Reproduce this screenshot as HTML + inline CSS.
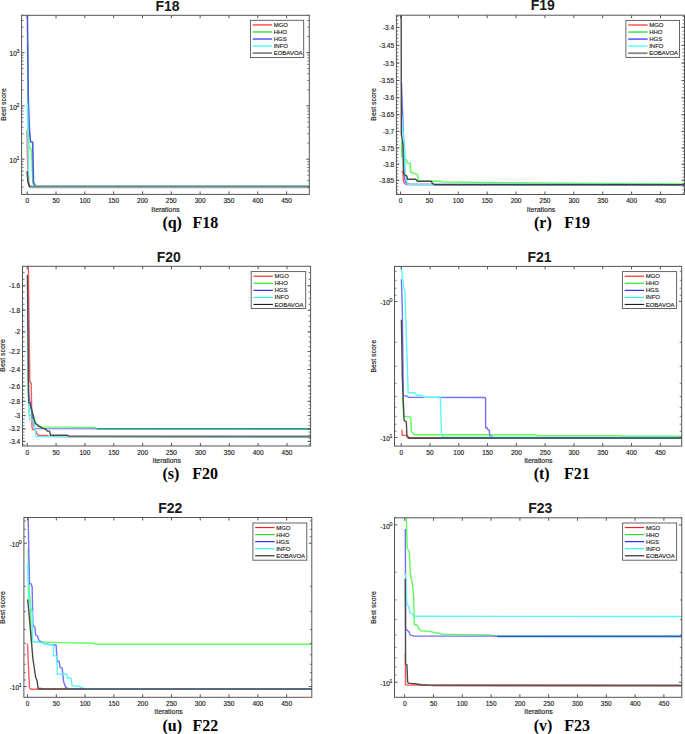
<!DOCTYPE html>
<html><head><meta charset="utf-8"><style>
html,body{margin:0;padding:0;background:#fff;}
svg{display:block;}
</style></head><body>
<svg width="685" height="734" viewBox="0 0 685 734" shape-rendering="geometricPrecision">
<rect width="685" height="734" fill="#fff"/>
<clipPath id="c18"><rect x="21.6" y="15.3" width="287.7" height="179.1"/></clipPath>
<g clip-path="url(#c18)" fill="none" stroke-linejoin="round">
<path d="M27.1,130.4 L27.6,159 L28.5,182 L30,186.5 L311.3,186.5" stroke="#ff5a5a" stroke-width="1.6"/>
<path d="M27.6,45 L28.3,127 L28.8,146 L31.6,150.8 L32.9,183.4 L34.5,186.5 L311.3,186.5" stroke="#5cff5c" stroke-width="1.6"/>
<path d="M27.4,14 L28.3,100 L29.5,130.4 L30.6,142 L32.7,142 L33.5,182 L35.6,186.5 L311.3,186.5" stroke="#4a5ae6" stroke-width="1.6"/>
<path d="M27.4,103 L28.8,184.8 L30.2,186.5 L311.3,186.5" stroke="#5cf6f6" stroke-width="1.6"/>
<path d="M27.1,171.2 L28,182 L29.5,186.7 L311.3,186.7" stroke="#4a4a4a" stroke-width="1.6"/>
<path d="M30,187.8 L311.3,187.8" stroke="#bdbdbd" stroke-width="1.0"/>
<path d="M30.5,186.5 L311.3,186.5" stroke="#648c91" stroke-width="1.5"/>
</g>
<rect x="21.6" y="15.3" width="287.7" height="179.1" fill="none" stroke="#555" stroke-width="1"/>
<line x1="27.2" y1="194.4" x2="27.2" y2="191.4" stroke="#555" stroke-width="1.0"/>
<line x1="27.2" y1="15.3" x2="27.2" y2="18.3" stroke="#555" stroke-width="1.0"/>
<text x="27.2" y="203.1" font-family="Liberation Sans" font-size="6.5" font-weight="normal" text-anchor="middle" fill="#222" stroke="#222" stroke-width="0.15" >0</text>
<line x1="56.02" y1="194.4" x2="56.02" y2="191.4" stroke="#555" stroke-width="1.0"/>
<line x1="56.02" y1="15.3" x2="56.02" y2="18.3" stroke="#555" stroke-width="1.0"/>
<text x="56.02" y="203.1" font-family="Liberation Sans" font-size="6.5" font-weight="normal" text-anchor="middle" fill="#222" stroke="#222" stroke-width="0.15" >50</text>
<line x1="84.84" y1="194.4" x2="84.84" y2="191.4" stroke="#555" stroke-width="1.0"/>
<line x1="84.84" y1="15.3" x2="84.84" y2="18.3" stroke="#555" stroke-width="1.0"/>
<text x="84.84" y="203.1" font-family="Liberation Sans" font-size="6.5" font-weight="normal" text-anchor="middle" fill="#222" stroke="#222" stroke-width="0.15" >100</text>
<line x1="113.66" y1="194.4" x2="113.66" y2="191.4" stroke="#555" stroke-width="1.0"/>
<line x1="113.66" y1="15.3" x2="113.66" y2="18.3" stroke="#555" stroke-width="1.0"/>
<text x="113.66" y="203.1" font-family="Liberation Sans" font-size="6.5" font-weight="normal" text-anchor="middle" fill="#222" stroke="#222" stroke-width="0.15" >150</text>
<line x1="142.48" y1="194.4" x2="142.48" y2="191.4" stroke="#555" stroke-width="1.0"/>
<line x1="142.48" y1="15.3" x2="142.48" y2="18.3" stroke="#555" stroke-width="1.0"/>
<text x="142.48" y="203.1" font-family="Liberation Sans" font-size="6.5" font-weight="normal" text-anchor="middle" fill="#222" stroke="#222" stroke-width="0.15" >200</text>
<line x1="171.3" y1="194.4" x2="171.3" y2="191.4" stroke="#555" stroke-width="1.0"/>
<line x1="171.3" y1="15.3" x2="171.3" y2="18.3" stroke="#555" stroke-width="1.0"/>
<text x="171.3" y="203.1" font-family="Liberation Sans" font-size="6.5" font-weight="normal" text-anchor="middle" fill="#222" stroke="#222" stroke-width="0.15" >250</text>
<line x1="200.12" y1="194.4" x2="200.12" y2="191.4" stroke="#555" stroke-width="1.0"/>
<line x1="200.12" y1="15.3" x2="200.12" y2="18.3" stroke="#555" stroke-width="1.0"/>
<text x="200.12" y="203.1" font-family="Liberation Sans" font-size="6.5" font-weight="normal" text-anchor="middle" fill="#222" stroke="#222" stroke-width="0.15" >300</text>
<line x1="228.94" y1="194.4" x2="228.94" y2="191.4" stroke="#555" stroke-width="1.0"/>
<line x1="228.94" y1="15.3" x2="228.94" y2="18.3" stroke="#555" stroke-width="1.0"/>
<text x="228.94" y="203.1" font-family="Liberation Sans" font-size="6.5" font-weight="normal" text-anchor="middle" fill="#222" stroke="#222" stroke-width="0.15" >350</text>
<line x1="257.76" y1="194.4" x2="257.76" y2="191.4" stroke="#555" stroke-width="1.0"/>
<line x1="257.76" y1="15.3" x2="257.76" y2="18.3" stroke="#555" stroke-width="1.0"/>
<text x="257.76" y="203.1" font-family="Liberation Sans" font-size="6.5" font-weight="normal" text-anchor="middle" fill="#222" stroke="#222" stroke-width="0.15" >400</text>
<line x1="286.58" y1="194.4" x2="286.58" y2="191.4" stroke="#555" stroke-width="1.0"/>
<line x1="286.58" y1="15.3" x2="286.58" y2="18.3" stroke="#555" stroke-width="1.0"/>
<text x="286.58" y="203.1" font-family="Liberation Sans" font-size="6.5" font-weight="normal" text-anchor="middle" fill="#222" stroke="#222" stroke-width="0.15" >450</text>
<line x1="21.6" y1="159.2" x2="24.6" y2="159.2" stroke="#555" stroke-width="1.0"/>
<line x1="309.3" y1="159.2" x2="306.3" y2="159.2" stroke="#555" stroke-width="1.0"/>
<text x="16.91" y="162.8" font-family="Liberation Sans" font-size="6.6" text-anchor="end" fill="#222" stroke="#222" stroke-width="0.15">10</text>
<text x="16.51" y="160" font-family="Liberation Sans" font-size="5.3" text-anchor="start" fill="#222" stroke="#222" stroke-width="0.15">1</text>
<line x1="21.6" y1="105.9" x2="24.6" y2="105.9" stroke="#555" stroke-width="1.0"/>
<line x1="309.3" y1="105.9" x2="306.3" y2="105.9" stroke="#555" stroke-width="1.0"/>
<text x="16.91" y="109.5" font-family="Liberation Sans" font-size="6.6" text-anchor="end" fill="#222" stroke="#222" stroke-width="0.15">10</text>
<text x="16.51" y="106.7" font-family="Liberation Sans" font-size="5.3" text-anchor="start" fill="#222" stroke="#222" stroke-width="0.15">2</text>
<line x1="21.6" y1="52.6" x2="24.6" y2="52.6" stroke="#555" stroke-width="1.0"/>
<line x1="309.3" y1="52.6" x2="306.3" y2="52.6" stroke="#555" stroke-width="1.0"/>
<text x="16.91" y="56.2" font-family="Liberation Sans" font-size="6.6" text-anchor="end" fill="#222" stroke="#222" stroke-width="0.15">10</text>
<text x="16.51" y="53.4" font-family="Liberation Sans" font-size="5.3" text-anchor="start" fill="#222" stroke="#222" stroke-width="0.15">3</text>
<line x1="21.6" y1="187.07" x2="23.6" y2="187.07" stroke="#555" stroke-width="0.8"/>
<line x1="309.3" y1="187.07" x2="307.3" y2="187.07" stroke="#555" stroke-width="0.8"/>
<line x1="21.6" y1="180.41" x2="23.6" y2="180.41" stroke="#555" stroke-width="0.8"/>
<line x1="309.3" y1="180.41" x2="307.3" y2="180.41" stroke="#555" stroke-width="0.8"/>
<line x1="21.6" y1="175.24" x2="23.6" y2="175.24" stroke="#555" stroke-width="0.8"/>
<line x1="309.3" y1="175.24" x2="307.3" y2="175.24" stroke="#555" stroke-width="0.8"/>
<line x1="21.6" y1="171.02" x2="23.6" y2="171.02" stroke="#555" stroke-width="0.8"/>
<line x1="309.3" y1="171.02" x2="307.3" y2="171.02" stroke="#555" stroke-width="0.8"/>
<line x1="21.6" y1="167.46" x2="23.6" y2="167.46" stroke="#555" stroke-width="0.8"/>
<line x1="309.3" y1="167.46" x2="307.3" y2="167.46" stroke="#555" stroke-width="0.8"/>
<line x1="21.6" y1="164.37" x2="23.6" y2="164.37" stroke="#555" stroke-width="0.8"/>
<line x1="309.3" y1="164.37" x2="307.3" y2="164.37" stroke="#555" stroke-width="0.8"/>
<line x1="21.6" y1="161.64" x2="23.6" y2="161.64" stroke="#555" stroke-width="0.8"/>
<line x1="309.3" y1="161.64" x2="307.3" y2="161.64" stroke="#555" stroke-width="0.8"/>
<line x1="21.6" y1="143.16" x2="23.6" y2="143.16" stroke="#555" stroke-width="0.8"/>
<line x1="309.3" y1="143.16" x2="307.3" y2="143.16" stroke="#555" stroke-width="0.8"/>
<line x1="21.6" y1="133.77" x2="23.6" y2="133.77" stroke="#555" stroke-width="0.8"/>
<line x1="309.3" y1="133.77" x2="307.3" y2="133.77" stroke="#555" stroke-width="0.8"/>
<line x1="21.6" y1="127.11" x2="23.6" y2="127.11" stroke="#555" stroke-width="0.8"/>
<line x1="309.3" y1="127.11" x2="307.3" y2="127.11" stroke="#555" stroke-width="0.8"/>
<line x1="21.6" y1="121.94" x2="23.6" y2="121.94" stroke="#555" stroke-width="0.8"/>
<line x1="309.3" y1="121.94" x2="307.3" y2="121.94" stroke="#555" stroke-width="0.8"/>
<line x1="21.6" y1="117.72" x2="23.6" y2="117.72" stroke="#555" stroke-width="0.8"/>
<line x1="309.3" y1="117.72" x2="307.3" y2="117.72" stroke="#555" stroke-width="0.8"/>
<line x1="21.6" y1="114.16" x2="23.6" y2="114.16" stroke="#555" stroke-width="0.8"/>
<line x1="309.3" y1="114.16" x2="307.3" y2="114.16" stroke="#555" stroke-width="0.8"/>
<line x1="21.6" y1="111.07" x2="23.6" y2="111.07" stroke="#555" stroke-width="0.8"/>
<line x1="309.3" y1="111.07" x2="307.3" y2="111.07" stroke="#555" stroke-width="0.8"/>
<line x1="21.6" y1="108.34" x2="23.6" y2="108.34" stroke="#555" stroke-width="0.8"/>
<line x1="309.3" y1="108.34" x2="307.3" y2="108.34" stroke="#555" stroke-width="0.8"/>
<line x1="21.6" y1="89.86" x2="23.6" y2="89.86" stroke="#555" stroke-width="0.8"/>
<line x1="309.3" y1="89.86" x2="307.3" y2="89.86" stroke="#555" stroke-width="0.8"/>
<line x1="21.6" y1="80.47" x2="23.6" y2="80.47" stroke="#555" stroke-width="0.8"/>
<line x1="309.3" y1="80.47" x2="307.3" y2="80.47" stroke="#555" stroke-width="0.8"/>
<line x1="21.6" y1="73.81" x2="23.6" y2="73.81" stroke="#555" stroke-width="0.8"/>
<line x1="309.3" y1="73.81" x2="307.3" y2="73.81" stroke="#555" stroke-width="0.8"/>
<line x1="21.6" y1="68.64" x2="23.6" y2="68.64" stroke="#555" stroke-width="0.8"/>
<line x1="309.3" y1="68.64" x2="307.3" y2="68.64" stroke="#555" stroke-width="0.8"/>
<line x1="21.6" y1="64.42" x2="23.6" y2="64.42" stroke="#555" stroke-width="0.8"/>
<line x1="309.3" y1="64.42" x2="307.3" y2="64.42" stroke="#555" stroke-width="0.8"/>
<line x1="21.6" y1="60.86" x2="23.6" y2="60.86" stroke="#555" stroke-width="0.8"/>
<line x1="309.3" y1="60.86" x2="307.3" y2="60.86" stroke="#555" stroke-width="0.8"/>
<line x1="21.6" y1="57.77" x2="23.6" y2="57.77" stroke="#555" stroke-width="0.8"/>
<line x1="309.3" y1="57.77" x2="307.3" y2="57.77" stroke="#555" stroke-width="0.8"/>
<line x1="21.6" y1="55.04" x2="23.6" y2="55.04" stroke="#555" stroke-width="0.8"/>
<line x1="309.3" y1="55.04" x2="307.3" y2="55.04" stroke="#555" stroke-width="0.8"/>
<line x1="21.6" y1="36.56" x2="23.6" y2="36.56" stroke="#555" stroke-width="0.8"/>
<line x1="309.3" y1="36.56" x2="307.3" y2="36.56" stroke="#555" stroke-width="0.8"/>
<line x1="21.6" y1="27.17" x2="23.6" y2="27.17" stroke="#555" stroke-width="0.8"/>
<line x1="309.3" y1="27.17" x2="307.3" y2="27.17" stroke="#555" stroke-width="0.8"/>
<line x1="21.6" y1="20.51" x2="23.6" y2="20.51" stroke="#555" stroke-width="0.8"/>
<line x1="309.3" y1="20.51" x2="307.3" y2="20.51" stroke="#555" stroke-width="0.8"/>
<line x1="21.6" y1="15.34" x2="23.6" y2="15.34" stroke="#555" stroke-width="0.8"/>
<line x1="309.3" y1="15.34" x2="307.3" y2="15.34" stroke="#555" stroke-width="0.8"/>
<text x="167.6" y="10.5" font-family="Liberation Sans" font-size="14.0" font-weight="bold" text-anchor="middle" fill="#1a1a1a" >F18</text>
<text x="165.5" y="211.7" font-family="Liberation Sans" font-size="6.9" font-weight="normal" text-anchor="middle" fill="#222" stroke="#222" stroke-width="0.15" >Iterations</text>
<text x="5.6" y="104.4" font-family="Liberation Sans" font-size="6.9" font-weight="normal" text-anchor="middle" fill="#222" stroke="#222" stroke-width="0.15" transform="rotate(-90 5.6 104.4)">Best score</text>
<rect x="250.4" y="20.3" width="53.3" height="37.2" fill="#fff" stroke="#555" stroke-width="0.9"/>
<line x1="252.7" y1="24.9" x2="272.1" y2="24.9" stroke="#ff7070" stroke-width="1.8"/>
<text x="273.7" y="27" font-family="Liberation Sans" font-size="6.0" font-weight="normal" text-anchor="start" fill="#222" stroke="#222" stroke-width="0.15" >MGO</text>
<line x1="252.7" y1="31.95" x2="272.1" y2="31.95" stroke="#60e860" stroke-width="1.8"/>
<text x="273.7" y="34.05" font-family="Liberation Sans" font-size="6.0" font-weight="normal" text-anchor="start" fill="#222" stroke="#222" stroke-width="0.15" >HHO</text>
<line x1="252.7" y1="39" x2="272.1" y2="39" stroke="#7070ff" stroke-width="1.8"/>
<text x="273.7" y="41.1" font-family="Liberation Sans" font-size="6.0" font-weight="normal" text-anchor="start" fill="#222" stroke="#222" stroke-width="0.15" >HGS</text>
<line x1="252.7" y1="46.05" x2="272.1" y2="46.05" stroke="#70ffff" stroke-width="1.8"/>
<text x="273.7" y="48.15" font-family="Liberation Sans" font-size="6.0" font-weight="normal" text-anchor="start" fill="#222" stroke="#222" stroke-width="0.15" >INFO</text>
<line x1="252.7" y1="53.1" x2="272.1" y2="53.1" stroke="#888888" stroke-width="1.8"/>
<text x="273.7" y="55.2" font-family="Liberation Sans" font-size="6.0" font-weight="normal" text-anchor="start" fill="#222" stroke="#222" stroke-width="0.15" >EOBAVOA</text>
<text x="162.4" y="228" font-family="Liberation Serif" font-size="16" font-weight="bold" text-anchor="start" fill="#000" >(q)</text>
<text x="192.4" y="228" font-family="Liberation Serif" font-size="16" font-weight="bold" text-anchor="start" fill="#000" >F18</text>
<clipPath id="c19"><rect x="396.4" y="15.2" width="288.1" height="179.3"/></clipPath>
<g clip-path="url(#c19)" fill="none" stroke-linejoin="round">
<path d="M401.4,171.3 L402.8,172 L403.4,180.8 L404.5,183.5 L406.2,184.5 L686.5,184.6" stroke="#ff5a5a" stroke-width="1.4"/>
<path d="M401.7,142 L401.7,157 L403.1,157 L406.5,159.7 L407.2,163.1 L410.2,163.1 L410.6,172.3 L414.3,173.3 L417.4,174.4 L418.4,181.2 L441.4,181.3 L442,182 L484,182.5 L600,183.5 L686.5,184" stroke="#5cff5c" stroke-width="1.4"/>
<path d="M401.5,83 L403.8,145 L404.5,178 L405.5,182.2 L407,183.5 L410,184.5 L686.5,184.6" stroke="#7272ff" stroke-width="1.4"/>
<path d="M401.5,115.5 L404.8,150.9 L405.2,175.4 L406.5,177.1 L406.9,182.2 L408,184.4 L686.5,184.6" stroke="#5cf6f6" stroke-width="1.4"/>
<path d="M401.2,14 L401.3,134 L402.9,145 L403.4,170 L403.9,174.7 L406.9,176.1 L407.5,179.2 L415.7,179.2 L417.4,181.2 L431.4,181.2 L432.4,183.6 L434.8,184.6 L686.5,184.7" stroke="#4a4a4a" stroke-width="1.4"/>
<path d="M434.8,184.6 L686.5,184.6" stroke="#374155" stroke-width="1.4"/>
</g>
<rect x="396.4" y="15.2" width="288.1" height="179.3" fill="none" stroke="#555" stroke-width="1"/>
<line x1="400.5" y1="194.5" x2="400.5" y2="191.5" stroke="#555" stroke-width="1.0"/>
<line x1="400.5" y1="15.2" x2="400.5" y2="18.2" stroke="#555" stroke-width="1.0"/>
<text x="400.5" y="203.2" font-family="Liberation Sans" font-size="6.5" font-weight="normal" text-anchor="middle" fill="#222" stroke="#222" stroke-width="0.15" >0</text>
<line x1="429.39" y1="194.5" x2="429.39" y2="191.5" stroke="#555" stroke-width="1.0"/>
<line x1="429.39" y1="15.2" x2="429.39" y2="18.2" stroke="#555" stroke-width="1.0"/>
<text x="429.39" y="203.2" font-family="Liberation Sans" font-size="6.5" font-weight="normal" text-anchor="middle" fill="#222" stroke="#222" stroke-width="0.15" >50</text>
<line x1="458.28" y1="194.5" x2="458.28" y2="191.5" stroke="#555" stroke-width="1.0"/>
<line x1="458.28" y1="15.2" x2="458.28" y2="18.2" stroke="#555" stroke-width="1.0"/>
<text x="458.28" y="203.2" font-family="Liberation Sans" font-size="6.5" font-weight="normal" text-anchor="middle" fill="#222" stroke="#222" stroke-width="0.15" >100</text>
<line x1="487.17" y1="194.5" x2="487.17" y2="191.5" stroke="#555" stroke-width="1.0"/>
<line x1="487.17" y1="15.2" x2="487.17" y2="18.2" stroke="#555" stroke-width="1.0"/>
<text x="487.17" y="203.2" font-family="Liberation Sans" font-size="6.5" font-weight="normal" text-anchor="middle" fill="#222" stroke="#222" stroke-width="0.15" >150</text>
<line x1="516.06" y1="194.5" x2="516.06" y2="191.5" stroke="#555" stroke-width="1.0"/>
<line x1="516.06" y1="15.2" x2="516.06" y2="18.2" stroke="#555" stroke-width="1.0"/>
<text x="516.06" y="203.2" font-family="Liberation Sans" font-size="6.5" font-weight="normal" text-anchor="middle" fill="#222" stroke="#222" stroke-width="0.15" >200</text>
<line x1="544.95" y1="194.5" x2="544.95" y2="191.5" stroke="#555" stroke-width="1.0"/>
<line x1="544.95" y1="15.2" x2="544.95" y2="18.2" stroke="#555" stroke-width="1.0"/>
<text x="544.95" y="203.2" font-family="Liberation Sans" font-size="6.5" font-weight="normal" text-anchor="middle" fill="#222" stroke="#222" stroke-width="0.15" >250</text>
<line x1="573.84" y1="194.5" x2="573.84" y2="191.5" stroke="#555" stroke-width="1.0"/>
<line x1="573.84" y1="15.2" x2="573.84" y2="18.2" stroke="#555" stroke-width="1.0"/>
<text x="573.84" y="203.2" font-family="Liberation Sans" font-size="6.5" font-weight="normal" text-anchor="middle" fill="#222" stroke="#222" stroke-width="0.15" >300</text>
<line x1="602.73" y1="194.5" x2="602.73" y2="191.5" stroke="#555" stroke-width="1.0"/>
<line x1="602.73" y1="15.2" x2="602.73" y2="18.2" stroke="#555" stroke-width="1.0"/>
<text x="602.73" y="203.2" font-family="Liberation Sans" font-size="6.5" font-weight="normal" text-anchor="middle" fill="#222" stroke="#222" stroke-width="0.15" >350</text>
<line x1="631.62" y1="194.5" x2="631.62" y2="191.5" stroke="#555" stroke-width="1.0"/>
<line x1="631.62" y1="15.2" x2="631.62" y2="18.2" stroke="#555" stroke-width="1.0"/>
<text x="631.62" y="203.2" font-family="Liberation Sans" font-size="6.5" font-weight="normal" text-anchor="middle" fill="#222" stroke="#222" stroke-width="0.15" >400</text>
<line x1="660.51" y1="194.5" x2="660.51" y2="191.5" stroke="#555" stroke-width="1.0"/>
<line x1="660.51" y1="15.2" x2="660.51" y2="18.2" stroke="#555" stroke-width="1.0"/>
<text x="660.51" y="203.2" font-family="Liberation Sans" font-size="6.5" font-weight="normal" text-anchor="middle" fill="#222" stroke="#222" stroke-width="0.15" >450</text>
<line x1="396.4" y1="27.4" x2="399.4" y2="27.4" stroke="#555" stroke-width="1.0"/>
<line x1="684.5" y1="27.4" x2="681.5" y2="27.4" stroke="#555" stroke-width="1.0"/>
<text x="394.1" y="30" font-family="Liberation Sans" font-size="6.5" font-weight="normal" text-anchor="end" fill="#222" stroke="#222" stroke-width="0.15" >-3.4</text>
<line x1="396.4" y1="45.36" x2="399.4" y2="45.36" stroke="#555" stroke-width="1.0"/>
<line x1="684.5" y1="45.36" x2="681.5" y2="45.36" stroke="#555" stroke-width="1.0"/>
<text x="394.1" y="47.96" font-family="Liberation Sans" font-size="6.5" font-weight="normal" text-anchor="end" fill="#222" stroke="#222" stroke-width="0.15" >-3.45</text>
<line x1="396.4" y1="63.06" x2="399.4" y2="63.06" stroke="#555" stroke-width="1.0"/>
<line x1="684.5" y1="63.06" x2="681.5" y2="63.06" stroke="#555" stroke-width="1.0"/>
<text x="394.1" y="65.66" font-family="Liberation Sans" font-size="6.5" font-weight="normal" text-anchor="end" fill="#222" stroke="#222" stroke-width="0.15" >-3.5</text>
<line x1="396.4" y1="80.52" x2="399.4" y2="80.52" stroke="#555" stroke-width="1.0"/>
<line x1="684.5" y1="80.52" x2="681.5" y2="80.52" stroke="#555" stroke-width="1.0"/>
<text x="394.1" y="83.12" font-family="Liberation Sans" font-size="6.5" font-weight="normal" text-anchor="end" fill="#222" stroke="#222" stroke-width="0.15" >-3.55</text>
<line x1="396.4" y1="97.73" x2="399.4" y2="97.73" stroke="#555" stroke-width="1.0"/>
<line x1="684.5" y1="97.73" x2="681.5" y2="97.73" stroke="#555" stroke-width="1.0"/>
<text x="394.1" y="100.33" font-family="Liberation Sans" font-size="6.5" font-weight="normal" text-anchor="end" fill="#222" stroke="#222" stroke-width="0.15" >-3.6</text>
<line x1="396.4" y1="114.7" x2="399.4" y2="114.7" stroke="#555" stroke-width="1.0"/>
<line x1="684.5" y1="114.7" x2="681.5" y2="114.7" stroke="#555" stroke-width="1.0"/>
<text x="394.1" y="117.3" font-family="Liberation Sans" font-size="6.5" font-weight="normal" text-anchor="end" fill="#222" stroke="#222" stroke-width="0.15" >-3.65</text>
<line x1="396.4" y1="131.44" x2="399.4" y2="131.44" stroke="#555" stroke-width="1.0"/>
<line x1="684.5" y1="131.44" x2="681.5" y2="131.44" stroke="#555" stroke-width="1.0"/>
<text x="394.1" y="134.04" font-family="Liberation Sans" font-size="6.5" font-weight="normal" text-anchor="end" fill="#222" stroke="#222" stroke-width="0.15" >-3.7</text>
<line x1="396.4" y1="147.95" x2="399.4" y2="147.95" stroke="#555" stroke-width="1.0"/>
<line x1="684.5" y1="147.95" x2="681.5" y2="147.95" stroke="#555" stroke-width="1.0"/>
<text x="394.1" y="150.55" font-family="Liberation Sans" font-size="6.5" font-weight="normal" text-anchor="end" fill="#222" stroke="#222" stroke-width="0.15" >-3.75</text>
<line x1="396.4" y1="164.25" x2="399.4" y2="164.25" stroke="#555" stroke-width="1.0"/>
<line x1="684.5" y1="164.25" x2="681.5" y2="164.25" stroke="#555" stroke-width="1.0"/>
<text x="394.1" y="166.85" font-family="Liberation Sans" font-size="6.5" font-weight="normal" text-anchor="end" fill="#222" stroke="#222" stroke-width="0.15" >-3.8</text>
<line x1="396.4" y1="180.33" x2="399.4" y2="180.33" stroke="#555" stroke-width="1.0"/>
<line x1="684.5" y1="180.33" x2="681.5" y2="180.33" stroke="#555" stroke-width="1.0"/>
<text x="394.1" y="182.93" font-family="Liberation Sans" font-size="6.5" font-weight="normal" text-anchor="end" fill="#222" stroke="#222" stroke-width="0.15" >-3.85</text>
<line x1="396.4" y1="16.5" x2="398.4" y2="16.5" stroke="#555" stroke-width="0.8"/>
<line x1="684.5" y1="16.5" x2="682.5" y2="16.5" stroke="#555" stroke-width="0.8"/>
<line x1="396.4" y1="20.14" x2="398.4" y2="20.14" stroke="#555" stroke-width="0.8"/>
<line x1="684.5" y1="20.14" x2="682.5" y2="20.14" stroke="#555" stroke-width="0.8"/>
<line x1="396.4" y1="23.78" x2="398.4" y2="23.78" stroke="#555" stroke-width="0.8"/>
<line x1="684.5" y1="23.78" x2="682.5" y2="23.78" stroke="#555" stroke-width="0.8"/>
<line x1="396.4" y1="27.4" x2="398.4" y2="27.4" stroke="#555" stroke-width="0.8"/>
<line x1="684.5" y1="27.4" x2="682.5" y2="27.4" stroke="#555" stroke-width="0.8"/>
<line x1="396.4" y1="31.01" x2="398.4" y2="31.01" stroke="#555" stroke-width="0.8"/>
<line x1="684.5" y1="31.01" x2="682.5" y2="31.01" stroke="#555" stroke-width="0.8"/>
<line x1="396.4" y1="34.62" x2="398.4" y2="34.62" stroke="#555" stroke-width="0.8"/>
<line x1="684.5" y1="34.62" x2="682.5" y2="34.62" stroke="#555" stroke-width="0.8"/>
<line x1="396.4" y1="38.21" x2="398.4" y2="38.21" stroke="#555" stroke-width="0.8"/>
<line x1="684.5" y1="38.21" x2="682.5" y2="38.21" stroke="#555" stroke-width="0.8"/>
<line x1="396.4" y1="41.79" x2="398.4" y2="41.79" stroke="#555" stroke-width="0.8"/>
<line x1="684.5" y1="41.79" x2="682.5" y2="41.79" stroke="#555" stroke-width="0.8"/>
<line x1="396.4" y1="45.36" x2="398.4" y2="45.36" stroke="#555" stroke-width="0.8"/>
<line x1="684.5" y1="45.36" x2="682.5" y2="45.36" stroke="#555" stroke-width="0.8"/>
<line x1="396.4" y1="48.92" x2="398.4" y2="48.92" stroke="#555" stroke-width="0.8"/>
<line x1="684.5" y1="48.92" x2="682.5" y2="48.92" stroke="#555" stroke-width="0.8"/>
<line x1="396.4" y1="52.47" x2="398.4" y2="52.47" stroke="#555" stroke-width="0.8"/>
<line x1="684.5" y1="52.47" x2="682.5" y2="52.47" stroke="#555" stroke-width="0.8"/>
<line x1="396.4" y1="56.01" x2="398.4" y2="56.01" stroke="#555" stroke-width="0.8"/>
<line x1="684.5" y1="56.01" x2="682.5" y2="56.01" stroke="#555" stroke-width="0.8"/>
<line x1="396.4" y1="59.54" x2="398.4" y2="59.54" stroke="#555" stroke-width="0.8"/>
<line x1="684.5" y1="59.54" x2="682.5" y2="59.54" stroke="#555" stroke-width="0.8"/>
<line x1="396.4" y1="63.06" x2="398.4" y2="63.06" stroke="#555" stroke-width="0.8"/>
<line x1="684.5" y1="63.06" x2="682.5" y2="63.06" stroke="#555" stroke-width="0.8"/>
<line x1="396.4" y1="66.58" x2="398.4" y2="66.58" stroke="#555" stroke-width="0.8"/>
<line x1="684.5" y1="66.58" x2="682.5" y2="66.58" stroke="#555" stroke-width="0.8"/>
<line x1="396.4" y1="70.08" x2="398.4" y2="70.08" stroke="#555" stroke-width="0.8"/>
<line x1="684.5" y1="70.08" x2="682.5" y2="70.08" stroke="#555" stroke-width="0.8"/>
<line x1="396.4" y1="73.57" x2="398.4" y2="73.57" stroke="#555" stroke-width="0.8"/>
<line x1="684.5" y1="73.57" x2="682.5" y2="73.57" stroke="#555" stroke-width="0.8"/>
<line x1="396.4" y1="77.05" x2="398.4" y2="77.05" stroke="#555" stroke-width="0.8"/>
<line x1="684.5" y1="77.05" x2="682.5" y2="77.05" stroke="#555" stroke-width="0.8"/>
<line x1="396.4" y1="80.52" x2="398.4" y2="80.52" stroke="#555" stroke-width="0.8"/>
<line x1="684.5" y1="80.52" x2="682.5" y2="80.52" stroke="#555" stroke-width="0.8"/>
<line x1="396.4" y1="83.98" x2="398.4" y2="83.98" stroke="#555" stroke-width="0.8"/>
<line x1="684.5" y1="83.98" x2="682.5" y2="83.98" stroke="#555" stroke-width="0.8"/>
<line x1="396.4" y1="87.43" x2="398.4" y2="87.43" stroke="#555" stroke-width="0.8"/>
<line x1="684.5" y1="87.43" x2="682.5" y2="87.43" stroke="#555" stroke-width="0.8"/>
<line x1="396.4" y1="90.87" x2="398.4" y2="90.87" stroke="#555" stroke-width="0.8"/>
<line x1="684.5" y1="90.87" x2="682.5" y2="90.87" stroke="#555" stroke-width="0.8"/>
<line x1="396.4" y1="94.3" x2="398.4" y2="94.3" stroke="#555" stroke-width="0.8"/>
<line x1="684.5" y1="94.3" x2="682.5" y2="94.3" stroke="#555" stroke-width="0.8"/>
<line x1="396.4" y1="97.73" x2="398.4" y2="97.73" stroke="#555" stroke-width="0.8"/>
<line x1="684.5" y1="97.73" x2="682.5" y2="97.73" stroke="#555" stroke-width="0.8"/>
<line x1="396.4" y1="101.14" x2="398.4" y2="101.14" stroke="#555" stroke-width="0.8"/>
<line x1="684.5" y1="101.14" x2="682.5" y2="101.14" stroke="#555" stroke-width="0.8"/>
<line x1="396.4" y1="104.54" x2="398.4" y2="104.54" stroke="#555" stroke-width="0.8"/>
<line x1="684.5" y1="104.54" x2="682.5" y2="104.54" stroke="#555" stroke-width="0.8"/>
<line x1="396.4" y1="107.94" x2="398.4" y2="107.94" stroke="#555" stroke-width="0.8"/>
<line x1="684.5" y1="107.94" x2="682.5" y2="107.94" stroke="#555" stroke-width="0.8"/>
<line x1="396.4" y1="111.32" x2="398.4" y2="111.32" stroke="#555" stroke-width="0.8"/>
<line x1="684.5" y1="111.32" x2="682.5" y2="111.32" stroke="#555" stroke-width="0.8"/>
<line x1="396.4" y1="114.7" x2="398.4" y2="114.7" stroke="#555" stroke-width="0.8"/>
<line x1="684.5" y1="114.7" x2="682.5" y2="114.7" stroke="#555" stroke-width="0.8"/>
<line x1="396.4" y1="118.06" x2="398.4" y2="118.06" stroke="#555" stroke-width="0.8"/>
<line x1="684.5" y1="118.06" x2="682.5" y2="118.06" stroke="#555" stroke-width="0.8"/>
<line x1="396.4" y1="121.42" x2="398.4" y2="121.42" stroke="#555" stroke-width="0.8"/>
<line x1="684.5" y1="121.42" x2="682.5" y2="121.42" stroke="#555" stroke-width="0.8"/>
<line x1="396.4" y1="124.77" x2="398.4" y2="124.77" stroke="#555" stroke-width="0.8"/>
<line x1="684.5" y1="124.77" x2="682.5" y2="124.77" stroke="#555" stroke-width="0.8"/>
<line x1="396.4" y1="128.11" x2="398.4" y2="128.11" stroke="#555" stroke-width="0.8"/>
<line x1="684.5" y1="128.11" x2="682.5" y2="128.11" stroke="#555" stroke-width="0.8"/>
<line x1="396.4" y1="131.44" x2="398.4" y2="131.44" stroke="#555" stroke-width="0.8"/>
<line x1="684.5" y1="131.44" x2="682.5" y2="131.44" stroke="#555" stroke-width="0.8"/>
<line x1="396.4" y1="134.76" x2="398.4" y2="134.76" stroke="#555" stroke-width="0.8"/>
<line x1="684.5" y1="134.76" x2="682.5" y2="134.76" stroke="#555" stroke-width="0.8"/>
<line x1="396.4" y1="138.07" x2="398.4" y2="138.07" stroke="#555" stroke-width="0.8"/>
<line x1="684.5" y1="138.07" x2="682.5" y2="138.07" stroke="#555" stroke-width="0.8"/>
<line x1="396.4" y1="141.37" x2="398.4" y2="141.37" stroke="#555" stroke-width="0.8"/>
<line x1="684.5" y1="141.37" x2="682.5" y2="141.37" stroke="#555" stroke-width="0.8"/>
<line x1="396.4" y1="144.67" x2="398.4" y2="144.67" stroke="#555" stroke-width="0.8"/>
<line x1="684.5" y1="144.67" x2="682.5" y2="144.67" stroke="#555" stroke-width="0.8"/>
<line x1="396.4" y1="147.95" x2="398.4" y2="147.95" stroke="#555" stroke-width="0.8"/>
<line x1="684.5" y1="147.95" x2="682.5" y2="147.95" stroke="#555" stroke-width="0.8"/>
<line x1="396.4" y1="151.23" x2="398.4" y2="151.23" stroke="#555" stroke-width="0.8"/>
<line x1="684.5" y1="151.23" x2="682.5" y2="151.23" stroke="#555" stroke-width="0.8"/>
<line x1="396.4" y1="154.5" x2="398.4" y2="154.5" stroke="#555" stroke-width="0.8"/>
<line x1="684.5" y1="154.5" x2="682.5" y2="154.5" stroke="#555" stroke-width="0.8"/>
<line x1="396.4" y1="157.75" x2="398.4" y2="157.75" stroke="#555" stroke-width="0.8"/>
<line x1="684.5" y1="157.75" x2="682.5" y2="157.75" stroke="#555" stroke-width="0.8"/>
<line x1="396.4" y1="161.01" x2="398.4" y2="161.01" stroke="#555" stroke-width="0.8"/>
<line x1="684.5" y1="161.01" x2="682.5" y2="161.01" stroke="#555" stroke-width="0.8"/>
<line x1="396.4" y1="164.25" x2="398.4" y2="164.25" stroke="#555" stroke-width="0.8"/>
<line x1="684.5" y1="164.25" x2="682.5" y2="164.25" stroke="#555" stroke-width="0.8"/>
<line x1="396.4" y1="167.48" x2="398.4" y2="167.48" stroke="#555" stroke-width="0.8"/>
<line x1="684.5" y1="167.48" x2="682.5" y2="167.48" stroke="#555" stroke-width="0.8"/>
<line x1="396.4" y1="170.71" x2="398.4" y2="170.71" stroke="#555" stroke-width="0.8"/>
<line x1="684.5" y1="170.71" x2="682.5" y2="170.71" stroke="#555" stroke-width="0.8"/>
<line x1="396.4" y1="173.92" x2="398.4" y2="173.92" stroke="#555" stroke-width="0.8"/>
<line x1="684.5" y1="173.92" x2="682.5" y2="173.92" stroke="#555" stroke-width="0.8"/>
<line x1="396.4" y1="177.13" x2="398.4" y2="177.13" stroke="#555" stroke-width="0.8"/>
<line x1="684.5" y1="177.13" x2="682.5" y2="177.13" stroke="#555" stroke-width="0.8"/>
<line x1="396.4" y1="180.33" x2="398.4" y2="180.33" stroke="#555" stroke-width="0.8"/>
<line x1="684.5" y1="180.33" x2="682.5" y2="180.33" stroke="#555" stroke-width="0.8"/>
<line x1="396.4" y1="183.52" x2="398.4" y2="183.52" stroke="#555" stroke-width="0.8"/>
<line x1="684.5" y1="183.52" x2="682.5" y2="183.52" stroke="#555" stroke-width="0.8"/>
<line x1="396.4" y1="186.71" x2="398.4" y2="186.71" stroke="#555" stroke-width="0.8"/>
<line x1="684.5" y1="186.71" x2="682.5" y2="186.71" stroke="#555" stroke-width="0.8"/>
<line x1="396.4" y1="189.88" x2="398.4" y2="189.88" stroke="#555" stroke-width="0.8"/>
<line x1="684.5" y1="189.88" x2="682.5" y2="189.88" stroke="#555" stroke-width="0.8"/>
<line x1="396.4" y1="193.05" x2="398.4" y2="193.05" stroke="#555" stroke-width="0.8"/>
<line x1="684.5" y1="193.05" x2="682.5" y2="193.05" stroke="#555" stroke-width="0.8"/>
<text x="542.8" y="10.3" font-family="Liberation Sans" font-size="14.0" font-weight="bold" text-anchor="middle" fill="#1a1a1a" >F19</text>
<text x="541" y="211.6" font-family="Liberation Sans" font-size="6.9" font-weight="normal" text-anchor="middle" fill="#222" stroke="#222" stroke-width="0.15" >Iterations</text>
<text x="376" y="104.4" font-family="Liberation Sans" font-size="6.9" font-weight="normal" text-anchor="middle" fill="#222" stroke="#222" stroke-width="0.15" transform="rotate(-90 376 104.4)">Best score</text>
<rect x="625.9" y="20.4" width="53.6" height="37" fill="#fff" stroke="#555" stroke-width="0.9"/>
<line x1="628.2" y1="25" x2="647.6" y2="25" stroke="#ff7070" stroke-width="1.8"/>
<text x="649.2" y="27.1" font-family="Liberation Sans" font-size="6.0" font-weight="normal" text-anchor="start" fill="#222" stroke="#222" stroke-width="0.15" >MGO</text>
<line x1="628.2" y1="32.05" x2="647.6" y2="32.05" stroke="#60e860" stroke-width="1.8"/>
<text x="649.2" y="34.15" font-family="Liberation Sans" font-size="6.0" font-weight="normal" text-anchor="start" fill="#222" stroke="#222" stroke-width="0.15" >HHO</text>
<line x1="628.2" y1="39.1" x2="647.6" y2="39.1" stroke="#7070ff" stroke-width="1.8"/>
<text x="649.2" y="41.2" font-family="Liberation Sans" font-size="6.0" font-weight="normal" text-anchor="start" fill="#222" stroke="#222" stroke-width="0.15" >HGS</text>
<line x1="628.2" y1="46.15" x2="647.6" y2="46.15" stroke="#70ffff" stroke-width="1.8"/>
<text x="649.2" y="48.25" font-family="Liberation Sans" font-size="6.0" font-weight="normal" text-anchor="start" fill="#222" stroke="#222" stroke-width="0.15" >INFO</text>
<line x1="628.2" y1="53.2" x2="647.6" y2="53.2" stroke="#888888" stroke-width="1.8"/>
<text x="649.2" y="55.3" font-family="Liberation Sans" font-size="6.0" font-weight="normal" text-anchor="start" fill="#222" stroke="#222" stroke-width="0.15" >EOBAVOA</text>
<text x="534" y="228" font-family="Liberation Serif" font-size="16" font-weight="bold" text-anchor="start" fill="#000" >(r)</text>
<text x="564.3" y="228" font-family="Liberation Serif" font-size="16" font-weight="bold" text-anchor="start" fill="#000" >F19</text>
<clipPath id="c20"><rect x="22.5" y="266.3" width="288.1" height="179.7"/></clipPath>
<g clip-path="url(#c20)" fill="none" stroke-linejoin="round">
<path d="M28.3,265 L29.8,381.8 L31.2,383.1 L32,426.7 L32.5,429.5 L35,429.5 L36.6,432.9 L38.4,435.3 L47.2,435.4 L49.3,436.5 L312.6,436.6" stroke="#ff5a5a" stroke-width="1.4"/>
<path d="M27.8,372 L28.2,388.6 L28.9,403.6 L29.3,415.2 L33.6,415.8 L35.7,424 L41.8,426.9 L80,427.4 L94,427.5 L97,428.6 L312.6,428.7" stroke="#5cff5c" stroke-width="1.4"/>
<path d="M27.6,298.8 L28.5,392.7 L32.3,415.8 L34.7,428.6 L312.6,428.9" stroke="#7272ff" stroke-width="1.4"/>
<path d="M27.5,330.7 L28.6,403.6 L29.5,419.2 L33.6,420 L36.1,436.6 L312.6,436.8" stroke="#5cf6f6" stroke-width="1.4"/>
<path d="M27.4,274.9 L28.7,402.2 L30.2,403.6 L32.9,414.5 L35,422.7 L39.1,426.7 L45.8,429.3 L47.3,431.1 L49.5,431.1 L50.6,435.2 L67.5,435.2 L69,436.3 L312.6,436.5" stroke="#4a4a4a" stroke-width="1.4"/>
<path d="M97,428.7 L312.6,428.7" stroke="#1ea078" stroke-width="1.5"/>
<path d="M69,436.6 L312.6,436.6" stroke="#647373" stroke-width="1.5"/>
</g>
<rect x="22.5" y="266.3" width="288.1" height="179.7" fill="none" stroke="#555" stroke-width="1"/>
<line x1="27.2" y1="446" x2="27.2" y2="443" stroke="#555" stroke-width="1.0"/>
<line x1="27.2" y1="266.3" x2="27.2" y2="269.3" stroke="#555" stroke-width="1.0"/>
<text x="27.2" y="454.7" font-family="Liberation Sans" font-size="6.5" font-weight="normal" text-anchor="middle" fill="#222" stroke="#222" stroke-width="0.15" >0</text>
<line x1="56.06" y1="446" x2="56.06" y2="443" stroke="#555" stroke-width="1.0"/>
<line x1="56.06" y1="266.3" x2="56.06" y2="269.3" stroke="#555" stroke-width="1.0"/>
<text x="56.06" y="454.7" font-family="Liberation Sans" font-size="6.5" font-weight="normal" text-anchor="middle" fill="#222" stroke="#222" stroke-width="0.15" >50</text>
<line x1="84.93" y1="446" x2="84.93" y2="443" stroke="#555" stroke-width="1.0"/>
<line x1="84.93" y1="266.3" x2="84.93" y2="269.3" stroke="#555" stroke-width="1.0"/>
<text x="84.93" y="454.7" font-family="Liberation Sans" font-size="6.5" font-weight="normal" text-anchor="middle" fill="#222" stroke="#222" stroke-width="0.15" >100</text>
<line x1="113.8" y1="446" x2="113.8" y2="443" stroke="#555" stroke-width="1.0"/>
<line x1="113.8" y1="266.3" x2="113.8" y2="269.3" stroke="#555" stroke-width="1.0"/>
<text x="113.8" y="454.7" font-family="Liberation Sans" font-size="6.5" font-weight="normal" text-anchor="middle" fill="#222" stroke="#222" stroke-width="0.15" >150</text>
<line x1="142.66" y1="446" x2="142.66" y2="443" stroke="#555" stroke-width="1.0"/>
<line x1="142.66" y1="266.3" x2="142.66" y2="269.3" stroke="#555" stroke-width="1.0"/>
<text x="142.66" y="454.7" font-family="Liberation Sans" font-size="6.5" font-weight="normal" text-anchor="middle" fill="#222" stroke="#222" stroke-width="0.15" >200</text>
<line x1="171.53" y1="446" x2="171.53" y2="443" stroke="#555" stroke-width="1.0"/>
<line x1="171.53" y1="266.3" x2="171.53" y2="269.3" stroke="#555" stroke-width="1.0"/>
<text x="171.53" y="454.7" font-family="Liberation Sans" font-size="6.5" font-weight="normal" text-anchor="middle" fill="#222" stroke="#222" stroke-width="0.15" >250</text>
<line x1="200.39" y1="446" x2="200.39" y2="443" stroke="#555" stroke-width="1.0"/>
<line x1="200.39" y1="266.3" x2="200.39" y2="269.3" stroke="#555" stroke-width="1.0"/>
<text x="200.39" y="454.7" font-family="Liberation Sans" font-size="6.5" font-weight="normal" text-anchor="middle" fill="#222" stroke="#222" stroke-width="0.15" >300</text>
<line x1="229.25" y1="446" x2="229.25" y2="443" stroke="#555" stroke-width="1.0"/>
<line x1="229.25" y1="266.3" x2="229.25" y2="269.3" stroke="#555" stroke-width="1.0"/>
<text x="229.25" y="454.7" font-family="Liberation Sans" font-size="6.5" font-weight="normal" text-anchor="middle" fill="#222" stroke="#222" stroke-width="0.15" >350</text>
<line x1="258.12" y1="446" x2="258.12" y2="443" stroke="#555" stroke-width="1.0"/>
<line x1="258.12" y1="266.3" x2="258.12" y2="269.3" stroke="#555" stroke-width="1.0"/>
<text x="258.12" y="454.7" font-family="Liberation Sans" font-size="6.5" font-weight="normal" text-anchor="middle" fill="#222" stroke="#222" stroke-width="0.15" >400</text>
<line x1="286.99" y1="446" x2="286.99" y2="443" stroke="#555" stroke-width="1.0"/>
<line x1="286.99" y1="266.3" x2="286.99" y2="269.3" stroke="#555" stroke-width="1.0"/>
<text x="286.99" y="454.7" font-family="Liberation Sans" font-size="6.5" font-weight="normal" text-anchor="middle" fill="#222" stroke="#222" stroke-width="0.15" >450</text>
<line x1="22.5" y1="285.8" x2="25.5" y2="285.8" stroke="#555" stroke-width="1.0"/>
<line x1="310.6" y1="285.8" x2="307.6" y2="285.8" stroke="#555" stroke-width="1.0"/>
<text x="20.2" y="288.4" font-family="Liberation Sans" font-size="6.5" font-weight="normal" text-anchor="end" fill="#222" stroke="#222" stroke-width="0.15" >-1.6</text>
<line x1="22.5" y1="310.11" x2="25.5" y2="310.11" stroke="#555" stroke-width="1.0"/>
<line x1="310.6" y1="310.11" x2="307.6" y2="310.11" stroke="#555" stroke-width="1.0"/>
<text x="20.2" y="312.71" font-family="Liberation Sans" font-size="6.5" font-weight="normal" text-anchor="end" fill="#222" stroke="#222" stroke-width="0.15" >-1.8</text>
<line x1="22.5" y1="331.86" x2="25.5" y2="331.86" stroke="#555" stroke-width="1.0"/>
<line x1="310.6" y1="331.86" x2="307.6" y2="331.86" stroke="#555" stroke-width="1.0"/>
<text x="20.2" y="334.46" font-family="Liberation Sans" font-size="6.5" font-weight="normal" text-anchor="end" fill="#222" stroke="#222" stroke-width="0.15" >-2</text>
<line x1="22.5" y1="351.54" x2="25.5" y2="351.54" stroke="#555" stroke-width="1.0"/>
<line x1="310.6" y1="351.54" x2="307.6" y2="351.54" stroke="#555" stroke-width="1.0"/>
<text x="20.2" y="354.14" font-family="Liberation Sans" font-size="6.5" font-weight="normal" text-anchor="end" fill="#222" stroke="#222" stroke-width="0.15" >-2.2</text>
<line x1="22.5" y1="369.5" x2="25.5" y2="369.5" stroke="#555" stroke-width="1.0"/>
<line x1="310.6" y1="369.5" x2="307.6" y2="369.5" stroke="#555" stroke-width="1.0"/>
<text x="20.2" y="372.1" font-family="Liberation Sans" font-size="6.5" font-weight="normal" text-anchor="end" fill="#222" stroke="#222" stroke-width="0.15" >-2.4</text>
<line x1="22.5" y1="386.02" x2="25.5" y2="386.02" stroke="#555" stroke-width="1.0"/>
<line x1="310.6" y1="386.02" x2="307.6" y2="386.02" stroke="#555" stroke-width="1.0"/>
<text x="20.2" y="388.62" font-family="Liberation Sans" font-size="6.5" font-weight="normal" text-anchor="end" fill="#222" stroke="#222" stroke-width="0.15" >-2.6</text>
<line x1="22.5" y1="401.32" x2="25.5" y2="401.32" stroke="#555" stroke-width="1.0"/>
<line x1="310.6" y1="401.32" x2="307.6" y2="401.32" stroke="#555" stroke-width="1.0"/>
<text x="20.2" y="403.92" font-family="Liberation Sans" font-size="6.5" font-weight="normal" text-anchor="end" fill="#222" stroke="#222" stroke-width="0.15" >-2.8</text>
<line x1="22.5" y1="415.56" x2="25.5" y2="415.56" stroke="#555" stroke-width="1.0"/>
<line x1="310.6" y1="415.56" x2="307.6" y2="415.56" stroke="#555" stroke-width="1.0"/>
<text x="20.2" y="418.16" font-family="Liberation Sans" font-size="6.5" font-weight="normal" text-anchor="end" fill="#222" stroke="#222" stroke-width="0.15" >-3</text>
<line x1="22.5" y1="428.88" x2="25.5" y2="428.88" stroke="#555" stroke-width="1.0"/>
<line x1="310.6" y1="428.88" x2="307.6" y2="428.88" stroke="#555" stroke-width="1.0"/>
<text x="20.2" y="431.48" font-family="Liberation Sans" font-size="6.5" font-weight="normal" text-anchor="end" fill="#222" stroke="#222" stroke-width="0.15" >-3.2</text>
<line x1="22.5" y1="441.39" x2="25.5" y2="441.39" stroke="#555" stroke-width="1.0"/>
<line x1="310.6" y1="441.39" x2="307.6" y2="441.39" stroke="#555" stroke-width="1.0"/>
<text x="20.2" y="443.99" font-family="Liberation Sans" font-size="6.5" font-weight="normal" text-anchor="end" fill="#222" stroke="#222" stroke-width="0.15" >-3.4</text>
<line x1="22.5" y1="272.48" x2="24.5" y2="272.48" stroke="#555" stroke-width="0.8"/>
<line x1="310.6" y1="272.48" x2="308.6" y2="272.48" stroke="#555" stroke-width="0.8"/>
<line x1="22.5" y1="279.25" x2="24.5" y2="279.25" stroke="#555" stroke-width="0.8"/>
<line x1="310.6" y1="279.25" x2="308.6" y2="279.25" stroke="#555" stroke-width="0.8"/>
<line x1="22.5" y1="285.8" x2="24.5" y2="285.8" stroke="#555" stroke-width="0.8"/>
<line x1="310.6" y1="285.8" x2="308.6" y2="285.8" stroke="#555" stroke-width="0.8"/>
<line x1="22.5" y1="292.15" x2="24.5" y2="292.15" stroke="#555" stroke-width="0.8"/>
<line x1="310.6" y1="292.15" x2="308.6" y2="292.15" stroke="#555" stroke-width="0.8"/>
<line x1="22.5" y1="298.31" x2="24.5" y2="298.31" stroke="#555" stroke-width="0.8"/>
<line x1="310.6" y1="298.31" x2="308.6" y2="298.31" stroke="#555" stroke-width="0.8"/>
<line x1="22.5" y1="304.3" x2="24.5" y2="304.3" stroke="#555" stroke-width="0.8"/>
<line x1="310.6" y1="304.3" x2="308.6" y2="304.3" stroke="#555" stroke-width="0.8"/>
<line x1="22.5" y1="310.11" x2="24.5" y2="310.11" stroke="#555" stroke-width="0.8"/>
<line x1="310.6" y1="310.11" x2="308.6" y2="310.11" stroke="#555" stroke-width="0.8"/>
<line x1="22.5" y1="315.77" x2="24.5" y2="315.77" stroke="#555" stroke-width="0.8"/>
<line x1="310.6" y1="315.77" x2="308.6" y2="315.77" stroke="#555" stroke-width="0.8"/>
<line x1="22.5" y1="321.27" x2="24.5" y2="321.27" stroke="#555" stroke-width="0.8"/>
<line x1="310.6" y1="321.27" x2="308.6" y2="321.27" stroke="#555" stroke-width="0.8"/>
<line x1="22.5" y1="326.64" x2="24.5" y2="326.64" stroke="#555" stroke-width="0.8"/>
<line x1="310.6" y1="326.64" x2="308.6" y2="326.64" stroke="#555" stroke-width="0.8"/>
<line x1="22.5" y1="331.86" x2="24.5" y2="331.86" stroke="#555" stroke-width="0.8"/>
<line x1="310.6" y1="331.86" x2="308.6" y2="331.86" stroke="#555" stroke-width="0.8"/>
<line x1="22.5" y1="336.96" x2="24.5" y2="336.96" stroke="#555" stroke-width="0.8"/>
<line x1="310.6" y1="336.96" x2="308.6" y2="336.96" stroke="#555" stroke-width="0.8"/>
<line x1="22.5" y1="341.93" x2="24.5" y2="341.93" stroke="#555" stroke-width="0.8"/>
<line x1="310.6" y1="341.93" x2="308.6" y2="341.93" stroke="#555" stroke-width="0.8"/>
<line x1="22.5" y1="346.79" x2="24.5" y2="346.79" stroke="#555" stroke-width="0.8"/>
<line x1="310.6" y1="346.79" x2="308.6" y2="346.79" stroke="#555" stroke-width="0.8"/>
<line x1="22.5" y1="351.54" x2="24.5" y2="351.54" stroke="#555" stroke-width="0.8"/>
<line x1="310.6" y1="351.54" x2="308.6" y2="351.54" stroke="#555" stroke-width="0.8"/>
<line x1="22.5" y1="356.17" x2="24.5" y2="356.17" stroke="#555" stroke-width="0.8"/>
<line x1="310.6" y1="356.17" x2="308.6" y2="356.17" stroke="#555" stroke-width="0.8"/>
<line x1="22.5" y1="360.71" x2="24.5" y2="360.71" stroke="#555" stroke-width="0.8"/>
<line x1="310.6" y1="360.71" x2="308.6" y2="360.71" stroke="#555" stroke-width="0.8"/>
<line x1="22.5" y1="365.15" x2="24.5" y2="365.15" stroke="#555" stroke-width="0.8"/>
<line x1="310.6" y1="365.15" x2="308.6" y2="365.15" stroke="#555" stroke-width="0.8"/>
<line x1="22.5" y1="369.5" x2="24.5" y2="369.5" stroke="#555" stroke-width="0.8"/>
<line x1="310.6" y1="369.5" x2="308.6" y2="369.5" stroke="#555" stroke-width="0.8"/>
<line x1="22.5" y1="373.75" x2="24.5" y2="373.75" stroke="#555" stroke-width="0.8"/>
<line x1="310.6" y1="373.75" x2="308.6" y2="373.75" stroke="#555" stroke-width="0.8"/>
<line x1="22.5" y1="377.92" x2="24.5" y2="377.92" stroke="#555" stroke-width="0.8"/>
<line x1="310.6" y1="377.92" x2="308.6" y2="377.92" stroke="#555" stroke-width="0.8"/>
<line x1="22.5" y1="382.01" x2="24.5" y2="382.01" stroke="#555" stroke-width="0.8"/>
<line x1="310.6" y1="382.01" x2="308.6" y2="382.01" stroke="#555" stroke-width="0.8"/>
<line x1="22.5" y1="386.02" x2="24.5" y2="386.02" stroke="#555" stroke-width="0.8"/>
<line x1="310.6" y1="386.02" x2="308.6" y2="386.02" stroke="#555" stroke-width="0.8"/>
<line x1="22.5" y1="389.95" x2="24.5" y2="389.95" stroke="#555" stroke-width="0.8"/>
<line x1="310.6" y1="389.95" x2="308.6" y2="389.95" stroke="#555" stroke-width="0.8"/>
<line x1="22.5" y1="393.81" x2="24.5" y2="393.81" stroke="#555" stroke-width="0.8"/>
<line x1="310.6" y1="393.81" x2="308.6" y2="393.81" stroke="#555" stroke-width="0.8"/>
<line x1="22.5" y1="397.6" x2="24.5" y2="397.6" stroke="#555" stroke-width="0.8"/>
<line x1="310.6" y1="397.6" x2="308.6" y2="397.6" stroke="#555" stroke-width="0.8"/>
<line x1="22.5" y1="401.32" x2="24.5" y2="401.32" stroke="#555" stroke-width="0.8"/>
<line x1="310.6" y1="401.32" x2="308.6" y2="401.32" stroke="#555" stroke-width="0.8"/>
<line x1="22.5" y1="404.97" x2="24.5" y2="404.97" stroke="#555" stroke-width="0.8"/>
<line x1="310.6" y1="404.97" x2="308.6" y2="404.97" stroke="#555" stroke-width="0.8"/>
<line x1="22.5" y1="408.56" x2="24.5" y2="408.56" stroke="#555" stroke-width="0.8"/>
<line x1="310.6" y1="408.56" x2="308.6" y2="408.56" stroke="#555" stroke-width="0.8"/>
<line x1="22.5" y1="412.09" x2="24.5" y2="412.09" stroke="#555" stroke-width="0.8"/>
<line x1="310.6" y1="412.09" x2="308.6" y2="412.09" stroke="#555" stroke-width="0.8"/>
<line x1="22.5" y1="415.56" x2="24.5" y2="415.56" stroke="#555" stroke-width="0.8"/>
<line x1="310.6" y1="415.56" x2="308.6" y2="415.56" stroke="#555" stroke-width="0.8"/>
<line x1="22.5" y1="418.97" x2="24.5" y2="418.97" stroke="#555" stroke-width="0.8"/>
<line x1="310.6" y1="418.97" x2="308.6" y2="418.97" stroke="#555" stroke-width="0.8"/>
<line x1="22.5" y1="422.33" x2="24.5" y2="422.33" stroke="#555" stroke-width="0.8"/>
<line x1="310.6" y1="422.33" x2="308.6" y2="422.33" stroke="#555" stroke-width="0.8"/>
<line x1="22.5" y1="425.63" x2="24.5" y2="425.63" stroke="#555" stroke-width="0.8"/>
<line x1="310.6" y1="425.63" x2="308.6" y2="425.63" stroke="#555" stroke-width="0.8"/>
<line x1="22.5" y1="428.88" x2="24.5" y2="428.88" stroke="#555" stroke-width="0.8"/>
<line x1="310.6" y1="428.88" x2="308.6" y2="428.88" stroke="#555" stroke-width="0.8"/>
<line x1="22.5" y1="432.08" x2="24.5" y2="432.08" stroke="#555" stroke-width="0.8"/>
<line x1="310.6" y1="432.08" x2="308.6" y2="432.08" stroke="#555" stroke-width="0.8"/>
<line x1="22.5" y1="435.23" x2="24.5" y2="435.23" stroke="#555" stroke-width="0.8"/>
<line x1="310.6" y1="435.23" x2="308.6" y2="435.23" stroke="#555" stroke-width="0.8"/>
<line x1="22.5" y1="438.34" x2="24.5" y2="438.34" stroke="#555" stroke-width="0.8"/>
<line x1="310.6" y1="438.34" x2="308.6" y2="438.34" stroke="#555" stroke-width="0.8"/>
<line x1="22.5" y1="441.39" x2="24.5" y2="441.39" stroke="#555" stroke-width="0.8"/>
<line x1="310.6" y1="441.39" x2="308.6" y2="441.39" stroke="#555" stroke-width="0.8"/>
<line x1="22.5" y1="444.41" x2="24.5" y2="444.41" stroke="#555" stroke-width="0.8"/>
<line x1="310.6" y1="444.41" x2="308.6" y2="444.41" stroke="#555" stroke-width="0.8"/>
<text x="168.7" y="261.6" font-family="Liberation Sans" font-size="14.0" font-weight="bold" text-anchor="middle" fill="#1a1a1a" >F20</text>
<text x="166.7" y="462.7" font-family="Liberation Sans" font-size="6.9" font-weight="normal" text-anchor="middle" fill="#222" stroke="#222" stroke-width="0.15" >Iterations</text>
<text x="4.8" y="355.4" font-family="Liberation Sans" font-size="6.9" font-weight="normal" text-anchor="middle" fill="#222" stroke="#222" stroke-width="0.15" transform="rotate(-90 4.8 355.4)">Best score</text>
<rect x="251.2" y="271.6" width="54.5" height="36.9" fill="#fff" stroke="#555" stroke-width="0.9"/>
<line x1="253.5" y1="276.2" x2="272.9" y2="276.2" stroke="#ff0000" stroke-width="1"/>
<text x="274.5" y="278.3" font-family="Liberation Sans" font-size="6.0" font-weight="normal" text-anchor="start" fill="#222" stroke="#222" stroke-width="0.15" >MGO</text>
<line x1="253.5" y1="283.25" x2="272.9" y2="283.25" stroke="#00e000" stroke-width="1"/>
<text x="274.5" y="285.35" font-family="Liberation Sans" font-size="6.0" font-weight="normal" text-anchor="start" fill="#222" stroke="#222" stroke-width="0.15" >HHO</text>
<line x1="253.5" y1="290.3" x2="272.9" y2="290.3" stroke="#0000ff" stroke-width="1"/>
<text x="274.5" y="292.4" font-family="Liberation Sans" font-size="6.0" font-weight="normal" text-anchor="start" fill="#222" stroke="#222" stroke-width="0.15" >HGS</text>
<line x1="253.5" y1="297.35" x2="272.9" y2="297.35" stroke="#00f0f0" stroke-width="1"/>
<text x="274.5" y="299.45" font-family="Liberation Sans" font-size="6.0" font-weight="normal" text-anchor="start" fill="#222" stroke="#222" stroke-width="0.15" >INFO</text>
<line x1="253.5" y1="304.4" x2="272.9" y2="304.4" stroke="#000000" stroke-width="1"/>
<text x="274.5" y="306.5" font-family="Liberation Sans" font-size="6.0" font-weight="normal" text-anchor="start" fill="#222" stroke="#222" stroke-width="0.15" >EOBAVOA</text>
<text x="162.5" y="479.2" font-family="Liberation Serif" font-size="16" font-weight="bold" text-anchor="start" fill="#000" >(s)</text>
<text x="192.3" y="479.2" font-family="Liberation Serif" font-size="16" font-weight="bold" text-anchor="start" fill="#000" >F20</text>
<clipPath id="c21"><rect x="394.5" y="266.4" width="287.2" height="179.7"/></clipPath>
<g clip-path="url(#c21)" fill="none" stroke-linejoin="round">
<path d="M401.8,429.6 L402.4,435.4 L405.6,435.4 L408.2,438.4 L683.7,438.4" stroke="#ff5a5a" stroke-width="1.4"/>
<path d="M402.4,396.6 L403.7,416.6 L408.9,416.6 L410.6,417.9 L411.5,431.5 L414.7,434.7 L535.6,434.8 L537,435.5 L620,435.6 L622,436.3 L683.7,436.3" stroke="#5cff5c" stroke-width="1.4"/>
<path d="M401.4,279.2 L402.3,308.6 L403.3,395.9 L406.9,395.9 L408.5,397.4 L484.7,397.5 L485.6,398.1 L485.6,427.7 L487.1,427.7 L488,430.1 L489.3,430.1 L489.7,435.6 L491.5,436.2 L493.6,437.8 L683.7,437.9" stroke="#7272ff" stroke-width="1.4"/>
<path d="M401.1,265 L403.8,289 L404.8,290.2 L408.2,392.7 L414.7,392.7 L416.6,395.3 L421.8,395.3 L424.4,397.2 L440.3,397.2 L441.6,435.4 L443.8,437.1 L683.7,437.2" stroke="#5cf6f6" stroke-width="1.4"/>
<path d="M401.4,319.7 L402.4,380 L404.1,420.5 L406.3,421.8 L406.9,435.4 L408.9,438 L683.7,438" stroke="#4a4a4a" stroke-width="1.4"/>
<path d="M409,438.3 L443,438.3" stroke="#5e4848" stroke-width="1.4"/>
<path d="M443,438.3 L493,438.3" stroke="#4a5a60" stroke-width="1.4"/>
<path d="M493,438.3 L683.7,438.3" stroke="#46646e" stroke-width="1.4"/>
</g>
<rect x="394.5" y="266.4" width="287.2" height="179.7" fill="none" stroke="#555" stroke-width="1"/>
<line x1="401.2" y1="446.1" x2="401.2" y2="443.1" stroke="#555" stroke-width="1.0"/>
<line x1="401.2" y1="266.4" x2="401.2" y2="269.4" stroke="#555" stroke-width="1.0"/>
<text x="401.2" y="454.8" font-family="Liberation Sans" font-size="6.5" font-weight="normal" text-anchor="middle" fill="#222" stroke="#222" stroke-width="0.15" >0</text>
<line x1="429.99" y1="446.1" x2="429.99" y2="443.1" stroke="#555" stroke-width="1.0"/>
<line x1="429.99" y1="266.4" x2="429.99" y2="269.4" stroke="#555" stroke-width="1.0"/>
<text x="429.99" y="454.8" font-family="Liberation Sans" font-size="6.5" font-weight="normal" text-anchor="middle" fill="#222" stroke="#222" stroke-width="0.15" >50</text>
<line x1="458.78" y1="446.1" x2="458.78" y2="443.1" stroke="#555" stroke-width="1.0"/>
<line x1="458.78" y1="266.4" x2="458.78" y2="269.4" stroke="#555" stroke-width="1.0"/>
<text x="458.78" y="454.8" font-family="Liberation Sans" font-size="6.5" font-weight="normal" text-anchor="middle" fill="#222" stroke="#222" stroke-width="0.15" >100</text>
<line x1="487.57" y1="446.1" x2="487.57" y2="443.1" stroke="#555" stroke-width="1.0"/>
<line x1="487.57" y1="266.4" x2="487.57" y2="269.4" stroke="#555" stroke-width="1.0"/>
<text x="487.57" y="454.8" font-family="Liberation Sans" font-size="6.5" font-weight="normal" text-anchor="middle" fill="#222" stroke="#222" stroke-width="0.15" >150</text>
<line x1="516.36" y1="446.1" x2="516.36" y2="443.1" stroke="#555" stroke-width="1.0"/>
<line x1="516.36" y1="266.4" x2="516.36" y2="269.4" stroke="#555" stroke-width="1.0"/>
<text x="516.36" y="454.8" font-family="Liberation Sans" font-size="6.5" font-weight="normal" text-anchor="middle" fill="#222" stroke="#222" stroke-width="0.15" >200</text>
<line x1="545.15" y1="446.1" x2="545.15" y2="443.1" stroke="#555" stroke-width="1.0"/>
<line x1="545.15" y1="266.4" x2="545.15" y2="269.4" stroke="#555" stroke-width="1.0"/>
<text x="545.15" y="454.8" font-family="Liberation Sans" font-size="6.5" font-weight="normal" text-anchor="middle" fill="#222" stroke="#222" stroke-width="0.15" >250</text>
<line x1="573.94" y1="446.1" x2="573.94" y2="443.1" stroke="#555" stroke-width="1.0"/>
<line x1="573.94" y1="266.4" x2="573.94" y2="269.4" stroke="#555" stroke-width="1.0"/>
<text x="573.94" y="454.8" font-family="Liberation Sans" font-size="6.5" font-weight="normal" text-anchor="middle" fill="#222" stroke="#222" stroke-width="0.15" >300</text>
<line x1="602.73" y1="446.1" x2="602.73" y2="443.1" stroke="#555" stroke-width="1.0"/>
<line x1="602.73" y1="266.4" x2="602.73" y2="269.4" stroke="#555" stroke-width="1.0"/>
<text x="602.73" y="454.8" font-family="Liberation Sans" font-size="6.5" font-weight="normal" text-anchor="middle" fill="#222" stroke="#222" stroke-width="0.15" >350</text>
<line x1="631.52" y1="446.1" x2="631.52" y2="443.1" stroke="#555" stroke-width="1.0"/>
<line x1="631.52" y1="266.4" x2="631.52" y2="269.4" stroke="#555" stroke-width="1.0"/>
<text x="631.52" y="454.8" font-family="Liberation Sans" font-size="6.5" font-weight="normal" text-anchor="middle" fill="#222" stroke="#222" stroke-width="0.15" >400</text>
<line x1="660.31" y1="446.1" x2="660.31" y2="443.1" stroke="#555" stroke-width="1.0"/>
<line x1="660.31" y1="266.4" x2="660.31" y2="269.4" stroke="#555" stroke-width="1.0"/>
<text x="660.31" y="454.8" font-family="Liberation Sans" font-size="6.5" font-weight="normal" text-anchor="middle" fill="#222" stroke="#222" stroke-width="0.15" >450</text>
<line x1="394.5" y1="301.4" x2="397.5" y2="301.4" stroke="#555" stroke-width="1.0"/>
<line x1="681.7" y1="301.4" x2="678.7" y2="301.4" stroke="#555" stroke-width="1.0"/>
<text x="389.81" y="305" font-family="Liberation Sans" font-size="6.6" text-anchor="end" fill="#222" stroke="#222" stroke-width="0.15">-10</text>
<text x="389.41" y="302.2" font-family="Liberation Sans" font-size="5.3" text-anchor="start" fill="#222" stroke="#222" stroke-width="0.15">0</text>
<line x1="394.5" y1="437.4" x2="397.5" y2="437.4" stroke="#555" stroke-width="1.0"/>
<line x1="681.7" y1="437.4" x2="678.7" y2="437.4" stroke="#555" stroke-width="1.0"/>
<text x="389.81" y="441" font-family="Liberation Sans" font-size="6.6" text-anchor="end" fill="#222" stroke="#222" stroke-width="0.15">-10</text>
<text x="389.41" y="438.2" font-family="Liberation Sans" font-size="5.3" text-anchor="start" fill="#222" stroke="#222" stroke-width="0.15">1</text>
<line x1="394.5" y1="271.23" x2="396.5" y2="271.23" stroke="#555" stroke-width="0.8"/>
<line x1="681.7" y1="271.23" x2="679.7" y2="271.23" stroke="#555" stroke-width="0.8"/>
<line x1="394.5" y1="280.33" x2="396.5" y2="280.33" stroke="#555" stroke-width="0.8"/>
<line x1="681.7" y1="280.33" x2="679.7" y2="280.33" stroke="#555" stroke-width="0.8"/>
<line x1="394.5" y1="288.22" x2="396.5" y2="288.22" stroke="#555" stroke-width="0.8"/>
<line x1="681.7" y1="288.22" x2="679.7" y2="288.22" stroke="#555" stroke-width="0.8"/>
<line x1="394.5" y1="295.18" x2="396.5" y2="295.18" stroke="#555" stroke-width="0.8"/>
<line x1="681.7" y1="295.18" x2="679.7" y2="295.18" stroke="#555" stroke-width="0.8"/>
<line x1="394.5" y1="342.34" x2="396.5" y2="342.34" stroke="#555" stroke-width="0.8"/>
<line x1="681.7" y1="342.34" x2="679.7" y2="342.34" stroke="#555" stroke-width="0.8"/>
<line x1="394.5" y1="366.29" x2="396.5" y2="366.29" stroke="#555" stroke-width="0.8"/>
<line x1="681.7" y1="366.29" x2="679.7" y2="366.29" stroke="#555" stroke-width="0.8"/>
<line x1="394.5" y1="383.28" x2="396.5" y2="383.28" stroke="#555" stroke-width="0.8"/>
<line x1="681.7" y1="383.28" x2="679.7" y2="383.28" stroke="#555" stroke-width="0.8"/>
<line x1="394.5" y1="396.46" x2="396.5" y2="396.46" stroke="#555" stroke-width="0.8"/>
<line x1="681.7" y1="396.46" x2="679.7" y2="396.46" stroke="#555" stroke-width="0.8"/>
<line x1="394.5" y1="407.23" x2="396.5" y2="407.23" stroke="#555" stroke-width="0.8"/>
<line x1="681.7" y1="407.23" x2="679.7" y2="407.23" stroke="#555" stroke-width="0.8"/>
<line x1="394.5" y1="416.33" x2="396.5" y2="416.33" stroke="#555" stroke-width="0.8"/>
<line x1="681.7" y1="416.33" x2="679.7" y2="416.33" stroke="#555" stroke-width="0.8"/>
<line x1="394.5" y1="424.22" x2="396.5" y2="424.22" stroke="#555" stroke-width="0.8"/>
<line x1="681.7" y1="424.22" x2="679.7" y2="424.22" stroke="#555" stroke-width="0.8"/>
<line x1="394.5" y1="431.18" x2="396.5" y2="431.18" stroke="#555" stroke-width="0.8"/>
<line x1="681.7" y1="431.18" x2="679.7" y2="431.18" stroke="#555" stroke-width="0.8"/>
<text x="539.6" y="261.6" font-family="Liberation Sans" font-size="14.0" font-weight="bold" text-anchor="middle" fill="#1a1a1a" >F21</text>
<text x="538.3" y="462.7" font-family="Liberation Sans" font-size="6.9" font-weight="normal" text-anchor="middle" fill="#222" stroke="#222" stroke-width="0.15" >Iterations</text>
<text x="376" y="356.3" font-family="Liberation Sans" font-size="6.9" font-weight="normal" text-anchor="middle" fill="#222" stroke="#222" stroke-width="0.15" transform="rotate(-90 376 356.3)">Best score</text>
<rect x="622.4" y="271.6" width="54.2" height="36.9" fill="#fff" stroke="#555" stroke-width="0.9"/>
<line x1="624.7" y1="276.2" x2="644.1" y2="276.2" stroke="#ff0000" stroke-width="1"/>
<text x="645.7" y="278.3" font-family="Liberation Sans" font-size="6.0" font-weight="normal" text-anchor="start" fill="#222" stroke="#222" stroke-width="0.15" >MGO</text>
<line x1="624.7" y1="283.25" x2="644.1" y2="283.25" stroke="#00e000" stroke-width="1"/>
<text x="645.7" y="285.35" font-family="Liberation Sans" font-size="6.0" font-weight="normal" text-anchor="start" fill="#222" stroke="#222" stroke-width="0.15" >HHO</text>
<line x1="624.7" y1="290.3" x2="644.1" y2="290.3" stroke="#0000ff" stroke-width="1"/>
<text x="645.7" y="292.4" font-family="Liberation Sans" font-size="6.0" font-weight="normal" text-anchor="start" fill="#222" stroke="#222" stroke-width="0.15" >HGS</text>
<line x1="624.7" y1="297.35" x2="644.1" y2="297.35" stroke="#00f0f0" stroke-width="1"/>
<text x="645.7" y="299.45" font-family="Liberation Sans" font-size="6.0" font-weight="normal" text-anchor="start" fill="#222" stroke="#222" stroke-width="0.15" >INFO</text>
<line x1="624.7" y1="304.4" x2="644.1" y2="304.4" stroke="#000000" stroke-width="1"/>
<text x="645.7" y="306.5" font-family="Liberation Sans" font-size="6.0" font-weight="normal" text-anchor="start" fill="#222" stroke="#222" stroke-width="0.15" >EOBAVOA</text>
<text x="533.7" y="479.2" font-family="Liberation Serif" font-size="16" font-weight="bold" text-anchor="start" fill="#000" >(t)</text>
<text x="564.1" y="479.2" font-family="Liberation Serif" font-size="16" font-weight="bold" text-anchor="start" fill="#000" >F21</text>
<clipPath id="c22"><rect x="23.9" y="517.5" width="287.9" height="179.8"/></clipPath>
<g clip-path="url(#c22)" fill="none" stroke-linejoin="round">
<path d="M27.4,643.6 L29.5,687.9 L30.9,689.2 L313.8,689.2" stroke="#ff5a5a" stroke-width="1.4"/>
<path d="M28.1,548.8 L29.5,595.2 L30.2,600 L31.3,640.9 L32.9,641.6 L60,642.6 L93.1,643.2 L95,644.2 L313.8,644.3" stroke="#5cff5c" stroke-width="1.4"/>
<path d="M28.1,516 L29.5,583.6 L30.9,583.6 L32.2,587 L32.6,612 L32.9,625.9 L34.9,627.2 L35.6,634.7 L37.3,636.1 L39,640.2 L42.4,642.9 L46.5,644.3 L56.1,645 L57.1,661.3 L59.1,661.3 L60.1,667.4 L62.2,668.1 L63.6,681.7 L65.6,687.2 L69,689 L313.8,689" stroke="#7272ff" stroke-width="1.4"/>
<path d="M27.7,562.5 L28.5,600 L32.2,612 L32.6,641.6 L39.7,642.2 L46.5,644.3 L53.3,645 L53.6,655.9 L56.7,655.9 L57.4,674.3 L67,674.3 L67.6,678.3 L71,678.3 L72.1,685.6 L79.2,686.5 L84.7,688.6 L313.8,688.8" stroke="#5cf6f6" stroke-width="1.4"/>
<path d="M27.2,600 L27.7,600 L28.8,610.9 L32.9,658.6 L35.6,677 L37,680.4 L38.1,688.3 L45,689 L313.8,689" stroke="#4a4a4a" stroke-width="1.4"/>
<path d="M38.5,689.2 L69,689.2" stroke="#7a5858" stroke-width="1.3"/>
<path d="M69,689.2 L85,689.2" stroke="#645a74" stroke-width="1.4"/>
<path d="M85,689.2 L313.8,689.2" stroke="#5a697d" stroke-width="1.5"/>
</g>
<rect x="23.9" y="517.5" width="287.9" height="179.8" fill="none" stroke="#555" stroke-width="1"/>
<line x1="27.5" y1="697.3" x2="27.5" y2="694.3" stroke="#555" stroke-width="1.0"/>
<line x1="27.5" y1="517.5" x2="27.5" y2="520.5" stroke="#555" stroke-width="1.0"/>
<text x="27.5" y="706" font-family="Liberation Sans" font-size="6.5" font-weight="normal" text-anchor="middle" fill="#222" stroke="#222" stroke-width="0.15" >0</text>
<line x1="56.29" y1="697.3" x2="56.29" y2="694.3" stroke="#555" stroke-width="1.0"/>
<line x1="56.29" y1="517.5" x2="56.29" y2="520.5" stroke="#555" stroke-width="1.0"/>
<text x="56.29" y="706" font-family="Liberation Sans" font-size="6.5" font-weight="normal" text-anchor="middle" fill="#222" stroke="#222" stroke-width="0.15" >50</text>
<line x1="85.08" y1="697.3" x2="85.08" y2="694.3" stroke="#555" stroke-width="1.0"/>
<line x1="85.08" y1="517.5" x2="85.08" y2="520.5" stroke="#555" stroke-width="1.0"/>
<text x="85.08" y="706" font-family="Liberation Sans" font-size="6.5" font-weight="normal" text-anchor="middle" fill="#222" stroke="#222" stroke-width="0.15" >100</text>
<line x1="113.87" y1="697.3" x2="113.87" y2="694.3" stroke="#555" stroke-width="1.0"/>
<line x1="113.87" y1="517.5" x2="113.87" y2="520.5" stroke="#555" stroke-width="1.0"/>
<text x="113.87" y="706" font-family="Liberation Sans" font-size="6.5" font-weight="normal" text-anchor="middle" fill="#222" stroke="#222" stroke-width="0.15" >150</text>
<line x1="142.66" y1="697.3" x2="142.66" y2="694.3" stroke="#555" stroke-width="1.0"/>
<line x1="142.66" y1="517.5" x2="142.66" y2="520.5" stroke="#555" stroke-width="1.0"/>
<text x="142.66" y="706" font-family="Liberation Sans" font-size="6.5" font-weight="normal" text-anchor="middle" fill="#222" stroke="#222" stroke-width="0.15" >200</text>
<line x1="171.45" y1="697.3" x2="171.45" y2="694.3" stroke="#555" stroke-width="1.0"/>
<line x1="171.45" y1="517.5" x2="171.45" y2="520.5" stroke="#555" stroke-width="1.0"/>
<text x="171.45" y="706" font-family="Liberation Sans" font-size="6.5" font-weight="normal" text-anchor="middle" fill="#222" stroke="#222" stroke-width="0.15" >250</text>
<line x1="200.24" y1="697.3" x2="200.24" y2="694.3" stroke="#555" stroke-width="1.0"/>
<line x1="200.24" y1="517.5" x2="200.24" y2="520.5" stroke="#555" stroke-width="1.0"/>
<text x="200.24" y="706" font-family="Liberation Sans" font-size="6.5" font-weight="normal" text-anchor="middle" fill="#222" stroke="#222" stroke-width="0.15" >300</text>
<line x1="229.03" y1="697.3" x2="229.03" y2="694.3" stroke="#555" stroke-width="1.0"/>
<line x1="229.03" y1="517.5" x2="229.03" y2="520.5" stroke="#555" stroke-width="1.0"/>
<text x="229.03" y="706" font-family="Liberation Sans" font-size="6.5" font-weight="normal" text-anchor="middle" fill="#222" stroke="#222" stroke-width="0.15" >350</text>
<line x1="257.82" y1="697.3" x2="257.82" y2="694.3" stroke="#555" stroke-width="1.0"/>
<line x1="257.82" y1="517.5" x2="257.82" y2="520.5" stroke="#555" stroke-width="1.0"/>
<text x="257.82" y="706" font-family="Liberation Sans" font-size="6.5" font-weight="normal" text-anchor="middle" fill="#222" stroke="#222" stroke-width="0.15" >400</text>
<line x1="286.61" y1="697.3" x2="286.61" y2="694.3" stroke="#555" stroke-width="1.0"/>
<line x1="286.61" y1="517.5" x2="286.61" y2="520.5" stroke="#555" stroke-width="1.0"/>
<text x="286.61" y="706" font-family="Liberation Sans" font-size="6.5" font-weight="normal" text-anchor="middle" fill="#222" stroke="#222" stroke-width="0.15" >450</text>
<line x1="23.9" y1="543.2" x2="26.9" y2="543.2" stroke="#555" stroke-width="1.0"/>
<line x1="311.8" y1="543.2" x2="308.8" y2="543.2" stroke="#555" stroke-width="1.0"/>
<text x="19.21" y="546.8" font-family="Liberation Sans" font-size="6.6" text-anchor="end" fill="#222" stroke="#222" stroke-width="0.15">-10</text>
<text x="18.81" y="544" font-family="Liberation Sans" font-size="5.3" text-anchor="start" fill="#222" stroke="#222" stroke-width="0.15">0</text>
<line x1="23.9" y1="686.5" x2="26.9" y2="686.5" stroke="#555" stroke-width="1.0"/>
<line x1="311.8" y1="686.5" x2="308.8" y2="686.5" stroke="#555" stroke-width="1.0"/>
<text x="19.21" y="690.1" font-family="Liberation Sans" font-size="6.6" text-anchor="end" fill="#222" stroke="#222" stroke-width="0.15">-10</text>
<text x="18.81" y="687.3" font-family="Liberation Sans" font-size="5.3" text-anchor="start" fill="#222" stroke="#222" stroke-width="0.15">1</text>
<line x1="23.9" y1="521" x2="25.9" y2="521" stroke="#555" stroke-width="0.8"/>
<line x1="311.8" y1="521" x2="309.8" y2="521" stroke="#555" stroke-width="0.8"/>
<line x1="23.9" y1="529.31" x2="25.9" y2="529.31" stroke="#555" stroke-width="0.8"/>
<line x1="311.8" y1="529.31" x2="309.8" y2="529.31" stroke="#555" stroke-width="0.8"/>
<line x1="23.9" y1="536.64" x2="25.9" y2="536.64" stroke="#555" stroke-width="0.8"/>
<line x1="311.8" y1="536.64" x2="309.8" y2="536.64" stroke="#555" stroke-width="0.8"/>
<line x1="23.9" y1="586.34" x2="25.9" y2="586.34" stroke="#555" stroke-width="0.8"/>
<line x1="311.8" y1="586.34" x2="309.8" y2="586.34" stroke="#555" stroke-width="0.8"/>
<line x1="23.9" y1="611.57" x2="25.9" y2="611.57" stroke="#555" stroke-width="0.8"/>
<line x1="311.8" y1="611.57" x2="309.8" y2="611.57" stroke="#555" stroke-width="0.8"/>
<line x1="23.9" y1="629.48" x2="25.9" y2="629.48" stroke="#555" stroke-width="0.8"/>
<line x1="311.8" y1="629.48" x2="309.8" y2="629.48" stroke="#555" stroke-width="0.8"/>
<line x1="23.9" y1="643.36" x2="25.9" y2="643.36" stroke="#555" stroke-width="0.8"/>
<line x1="311.8" y1="643.36" x2="309.8" y2="643.36" stroke="#555" stroke-width="0.8"/>
<line x1="23.9" y1="654.71" x2="25.9" y2="654.71" stroke="#555" stroke-width="0.8"/>
<line x1="311.8" y1="654.71" x2="309.8" y2="654.71" stroke="#555" stroke-width="0.8"/>
<line x1="23.9" y1="664.3" x2="25.9" y2="664.3" stroke="#555" stroke-width="0.8"/>
<line x1="311.8" y1="664.3" x2="309.8" y2="664.3" stroke="#555" stroke-width="0.8"/>
<line x1="23.9" y1="672.61" x2="25.9" y2="672.61" stroke="#555" stroke-width="0.8"/>
<line x1="311.8" y1="672.61" x2="309.8" y2="672.61" stroke="#555" stroke-width="0.8"/>
<line x1="23.9" y1="679.94" x2="25.9" y2="679.94" stroke="#555" stroke-width="0.8"/>
<line x1="311.8" y1="679.94" x2="309.8" y2="679.94" stroke="#555" stroke-width="0.8"/>
<text x="170.2" y="513" font-family="Liberation Sans" font-size="14.0" font-weight="bold" text-anchor="middle" fill="#1a1a1a" >F22</text>
<text x="168.5" y="714.1" font-family="Liberation Sans" font-size="6.9" font-weight="normal" text-anchor="middle" fill="#222" stroke="#222" stroke-width="0.15" >Iterations</text>
<text x="5.4" y="607.4" font-family="Liberation Sans" font-size="6.9" font-weight="normal" text-anchor="middle" fill="#222" stroke="#222" stroke-width="0.15" transform="rotate(-90 5.4 607.4)">Best score</text>
<rect x="252.9" y="523" width="53.9" height="37.2" fill="#fff" stroke="#555" stroke-width="0.9"/>
<line x1="255.2" y1="527.6" x2="274.6" y2="527.6" stroke="#ff0000" stroke-width="1"/>
<text x="276.2" y="529.7" font-family="Liberation Sans" font-size="6.0" font-weight="normal" text-anchor="start" fill="#222" stroke="#222" stroke-width="0.15" >MGO</text>
<line x1="255.2" y1="534.65" x2="274.6" y2="534.65" stroke="#00e000" stroke-width="1"/>
<text x="276.2" y="536.75" font-family="Liberation Sans" font-size="6.0" font-weight="normal" text-anchor="start" fill="#222" stroke="#222" stroke-width="0.15" >HHO</text>
<line x1="255.2" y1="541.7" x2="274.6" y2="541.7" stroke="#0000ff" stroke-width="1"/>
<text x="276.2" y="543.8" font-family="Liberation Sans" font-size="6.0" font-weight="normal" text-anchor="start" fill="#222" stroke="#222" stroke-width="0.15" >HGS</text>
<line x1="255.2" y1="548.75" x2="274.6" y2="548.75" stroke="#00f0f0" stroke-width="1"/>
<text x="276.2" y="550.85" font-family="Liberation Sans" font-size="6.0" font-weight="normal" text-anchor="start" fill="#222" stroke="#222" stroke-width="0.15" >INFO</text>
<line x1="255.2" y1="555.8" x2="274.6" y2="555.8" stroke="#000000" stroke-width="1"/>
<text x="276.2" y="557.9" font-family="Liberation Sans" font-size="6.0" font-weight="normal" text-anchor="start" fill="#222" stroke="#222" stroke-width="0.15" >EOBAVOA</text>
<text x="162.5" y="730.7" font-family="Liberation Serif" font-size="16" font-weight="bold" text-anchor="start" fill="#000" >(u)</text>
<text x="192.5" y="730.7" font-family="Liberation Serif" font-size="16" font-weight="bold" text-anchor="start" fill="#000" >F22</text>
<clipPath id="c23"><rect x="394.5" y="517.8" width="287.3" height="179.5"/></clipPath>
<g clip-path="url(#c23)" fill="none" stroke-linejoin="round">
<path d="M405.3,653.1 L405.5,684.5 L407.6,685.1 L683.8,685.6" stroke="#ff5a5a" stroke-width="1.4"/>
<path d="M406.3,516 L407.2,548.1 L409.3,551.5 L410.3,573.3 L412.8,586.9 L413.8,600 L414.2,624.5 L417.2,625.2 L418.5,628.6 L421.2,630.7 L430.8,631.6 L434.9,632.7 L440,633.4 L441.5,634.2 L452,634.4 L490,634.9 L497,636.4 L683.8,636.5" stroke="#5cff5c" stroke-width="1.4"/>
<path d="M405.3,529 L405.6,600 L405.6,628.6 L409,632 L410.3,635.1 L414.4,636.1 L683.8,636.3" stroke="#7272ff" stroke-width="1.4"/>
<path d="M405.6,573.3 L406.9,604.6 L408.7,606 L409.7,612 L413.1,615 L415.8,616.3 L683.8,616.5" stroke="#5cf6f6" stroke-width="1.4"/>
<path d="M405.3,578.8 L405.6,664 L406.9,664.7 L407.6,681.7 L408.3,683.1 L414.4,683.8 L421.2,684.7 L432.1,685.4 L683.8,685.5" stroke="#4a4a4a" stroke-width="1.4"/>
<path d="M497,636.5 L683.8,636.5" stroke="#2266bb" stroke-width="1.5"/>
<path d="M432,685.5 L683.8,685.5" stroke="#6e4b4b" stroke-width="1.5"/>
</g>
<rect x="394.5" y="517.8" width="287.3" height="179.5" fill="none" stroke="#555" stroke-width="1"/>
<line x1="404.7" y1="697.3" x2="404.7" y2="694.3" stroke="#555" stroke-width="1.0"/>
<line x1="404.7" y1="517.8" x2="404.7" y2="520.8" stroke="#555" stroke-width="1.0"/>
<text x="404.7" y="706" font-family="Liberation Sans" font-size="6.5" font-weight="normal" text-anchor="middle" fill="#222" stroke="#222" stroke-width="0.15" >0</text>
<line x1="433.5" y1="697.3" x2="433.5" y2="694.3" stroke="#555" stroke-width="1.0"/>
<line x1="433.5" y1="517.8" x2="433.5" y2="520.8" stroke="#555" stroke-width="1.0"/>
<text x="433.5" y="706" font-family="Liberation Sans" font-size="6.5" font-weight="normal" text-anchor="middle" fill="#222" stroke="#222" stroke-width="0.15" >50</text>
<line x1="462.3" y1="697.3" x2="462.3" y2="694.3" stroke="#555" stroke-width="1.0"/>
<line x1="462.3" y1="517.8" x2="462.3" y2="520.8" stroke="#555" stroke-width="1.0"/>
<text x="462.3" y="706" font-family="Liberation Sans" font-size="6.5" font-weight="normal" text-anchor="middle" fill="#222" stroke="#222" stroke-width="0.15" >100</text>
<line x1="491.1" y1="697.3" x2="491.1" y2="694.3" stroke="#555" stroke-width="1.0"/>
<line x1="491.1" y1="517.8" x2="491.1" y2="520.8" stroke="#555" stroke-width="1.0"/>
<text x="491.1" y="706" font-family="Liberation Sans" font-size="6.5" font-weight="normal" text-anchor="middle" fill="#222" stroke="#222" stroke-width="0.15" >150</text>
<line x1="519.9" y1="697.3" x2="519.9" y2="694.3" stroke="#555" stroke-width="1.0"/>
<line x1="519.9" y1="517.8" x2="519.9" y2="520.8" stroke="#555" stroke-width="1.0"/>
<text x="519.9" y="706" font-family="Liberation Sans" font-size="6.5" font-weight="normal" text-anchor="middle" fill="#222" stroke="#222" stroke-width="0.15" >200</text>
<line x1="548.7" y1="697.3" x2="548.7" y2="694.3" stroke="#555" stroke-width="1.0"/>
<line x1="548.7" y1="517.8" x2="548.7" y2="520.8" stroke="#555" stroke-width="1.0"/>
<text x="548.7" y="706" font-family="Liberation Sans" font-size="6.5" font-weight="normal" text-anchor="middle" fill="#222" stroke="#222" stroke-width="0.15" >250</text>
<line x1="577.5" y1="697.3" x2="577.5" y2="694.3" stroke="#555" stroke-width="1.0"/>
<line x1="577.5" y1="517.8" x2="577.5" y2="520.8" stroke="#555" stroke-width="1.0"/>
<text x="577.5" y="706" font-family="Liberation Sans" font-size="6.5" font-weight="normal" text-anchor="middle" fill="#222" stroke="#222" stroke-width="0.15" >300</text>
<line x1="606.3" y1="697.3" x2="606.3" y2="694.3" stroke="#555" stroke-width="1.0"/>
<line x1="606.3" y1="517.8" x2="606.3" y2="520.8" stroke="#555" stroke-width="1.0"/>
<text x="606.3" y="706" font-family="Liberation Sans" font-size="6.5" font-weight="normal" text-anchor="middle" fill="#222" stroke="#222" stroke-width="0.15" >350</text>
<line x1="635.1" y1="697.3" x2="635.1" y2="694.3" stroke="#555" stroke-width="1.0"/>
<line x1="635.1" y1="517.8" x2="635.1" y2="520.8" stroke="#555" stroke-width="1.0"/>
<text x="635.1" y="706" font-family="Liberation Sans" font-size="6.5" font-weight="normal" text-anchor="middle" fill="#222" stroke="#222" stroke-width="0.15" >400</text>
<line x1="663.9" y1="697.3" x2="663.9" y2="694.3" stroke="#555" stroke-width="1.0"/>
<line x1="663.9" y1="517.8" x2="663.9" y2="520.8" stroke="#555" stroke-width="1.0"/>
<text x="663.9" y="706" font-family="Liberation Sans" font-size="6.5" font-weight="normal" text-anchor="middle" fill="#222" stroke="#222" stroke-width="0.15" >450</text>
<line x1="394.5" y1="524.9" x2="397.5" y2="524.9" stroke="#555" stroke-width="1.0"/>
<line x1="681.8" y1="524.9" x2="678.8" y2="524.9" stroke="#555" stroke-width="1.0"/>
<text x="389.81" y="528.5" font-family="Liberation Sans" font-size="6.6" text-anchor="end" fill="#222" stroke="#222" stroke-width="0.15">-10</text>
<text x="389.41" y="525.7" font-family="Liberation Sans" font-size="5.3" text-anchor="start" fill="#222" stroke="#222" stroke-width="0.15">0</text>
<line x1="394.5" y1="682.2" x2="397.5" y2="682.2" stroke="#555" stroke-width="1.0"/>
<line x1="681.8" y1="682.2" x2="678.8" y2="682.2" stroke="#555" stroke-width="1.0"/>
<text x="389.81" y="685.8" font-family="Liberation Sans" font-size="6.6" text-anchor="end" fill="#222" stroke="#222" stroke-width="0.15">-10</text>
<text x="389.41" y="683" font-family="Liberation Sans" font-size="5.3" text-anchor="start" fill="#222" stroke="#222" stroke-width="0.15">1</text>
<line x1="394.5" y1="517.7" x2="396.5" y2="517.7" stroke="#555" stroke-width="0.8"/>
<line x1="681.8" y1="517.7" x2="679.8" y2="517.7" stroke="#555" stroke-width="0.8"/>
<line x1="394.5" y1="572.25" x2="396.5" y2="572.25" stroke="#555" stroke-width="0.8"/>
<line x1="681.8" y1="572.25" x2="679.8" y2="572.25" stroke="#555" stroke-width="0.8"/>
<line x1="394.5" y1="599.95" x2="396.5" y2="599.95" stroke="#555" stroke-width="0.8"/>
<line x1="681.8" y1="599.95" x2="679.8" y2="599.95" stroke="#555" stroke-width="0.8"/>
<line x1="394.5" y1="619.6" x2="396.5" y2="619.6" stroke="#555" stroke-width="0.8"/>
<line x1="681.8" y1="619.6" x2="679.8" y2="619.6" stroke="#555" stroke-width="0.8"/>
<line x1="394.5" y1="634.85" x2="396.5" y2="634.85" stroke="#555" stroke-width="0.8"/>
<line x1="681.8" y1="634.85" x2="679.8" y2="634.85" stroke="#555" stroke-width="0.8"/>
<line x1="394.5" y1="647.3" x2="396.5" y2="647.3" stroke="#555" stroke-width="0.8"/>
<line x1="681.8" y1="647.3" x2="679.8" y2="647.3" stroke="#555" stroke-width="0.8"/>
<line x1="394.5" y1="657.83" x2="396.5" y2="657.83" stroke="#555" stroke-width="0.8"/>
<line x1="681.8" y1="657.83" x2="679.8" y2="657.83" stroke="#555" stroke-width="0.8"/>
<line x1="394.5" y1="666.96" x2="396.5" y2="666.96" stroke="#555" stroke-width="0.8"/>
<line x1="681.8" y1="666.96" x2="679.8" y2="666.96" stroke="#555" stroke-width="0.8"/>
<line x1="394.5" y1="675" x2="396.5" y2="675" stroke="#555" stroke-width="0.8"/>
<line x1="681.8" y1="675" x2="679.8" y2="675" stroke="#555" stroke-width="0.8"/>
<text x="540.2" y="513" font-family="Liberation Sans" font-size="14.0" font-weight="bold" text-anchor="middle" fill="#1a1a1a" >F23</text>
<text x="538.5" y="714.1" font-family="Liberation Sans" font-size="6.9" font-weight="normal" text-anchor="middle" fill="#222" stroke="#222" stroke-width="0.15" >Iterations</text>
<text x="376" y="607.5" font-family="Liberation Sans" font-size="6.9" font-weight="normal" text-anchor="middle" fill="#222" stroke="#222" stroke-width="0.15" transform="rotate(-90 376 607.5)">Best score</text>
<rect x="622.6" y="523" width="54" height="37.2" fill="#fff" stroke="#555" stroke-width="0.9"/>
<line x1="624.9" y1="527.6" x2="644.3" y2="527.6" stroke="#ff0000" stroke-width="1"/>
<text x="645.9" y="529.7" font-family="Liberation Sans" font-size="6.0" font-weight="normal" text-anchor="start" fill="#222" stroke="#222" stroke-width="0.15" >MGO</text>
<line x1="624.9" y1="534.65" x2="644.3" y2="534.65" stroke="#00e000" stroke-width="1"/>
<text x="645.9" y="536.75" font-family="Liberation Sans" font-size="6.0" font-weight="normal" text-anchor="start" fill="#222" stroke="#222" stroke-width="0.15" >HHO</text>
<line x1="624.9" y1="541.7" x2="644.3" y2="541.7" stroke="#0000ff" stroke-width="1"/>
<text x="645.9" y="543.8" font-family="Liberation Sans" font-size="6.0" font-weight="normal" text-anchor="start" fill="#222" stroke="#222" stroke-width="0.15" >HGS</text>
<line x1="624.9" y1="548.75" x2="644.3" y2="548.75" stroke="#00f0f0" stroke-width="1"/>
<text x="645.9" y="550.85" font-family="Liberation Sans" font-size="6.0" font-weight="normal" text-anchor="start" fill="#222" stroke="#222" stroke-width="0.15" >INFO</text>
<line x1="624.9" y1="555.8" x2="644.3" y2="555.8" stroke="#000000" stroke-width="1"/>
<text x="645.9" y="557.9" font-family="Liberation Sans" font-size="6.0" font-weight="normal" text-anchor="start" fill="#222" stroke="#222" stroke-width="0.15" >EOBAVOA</text>
<text x="533.7" y="730.7" font-family="Liberation Serif" font-size="16" font-weight="bold" text-anchor="start" fill="#000" >(v)</text>
<text x="564.3" y="730.7" font-family="Liberation Serif" font-size="16" font-weight="bold" text-anchor="start" fill="#000" >F23</text>
</svg>
</body></html>
